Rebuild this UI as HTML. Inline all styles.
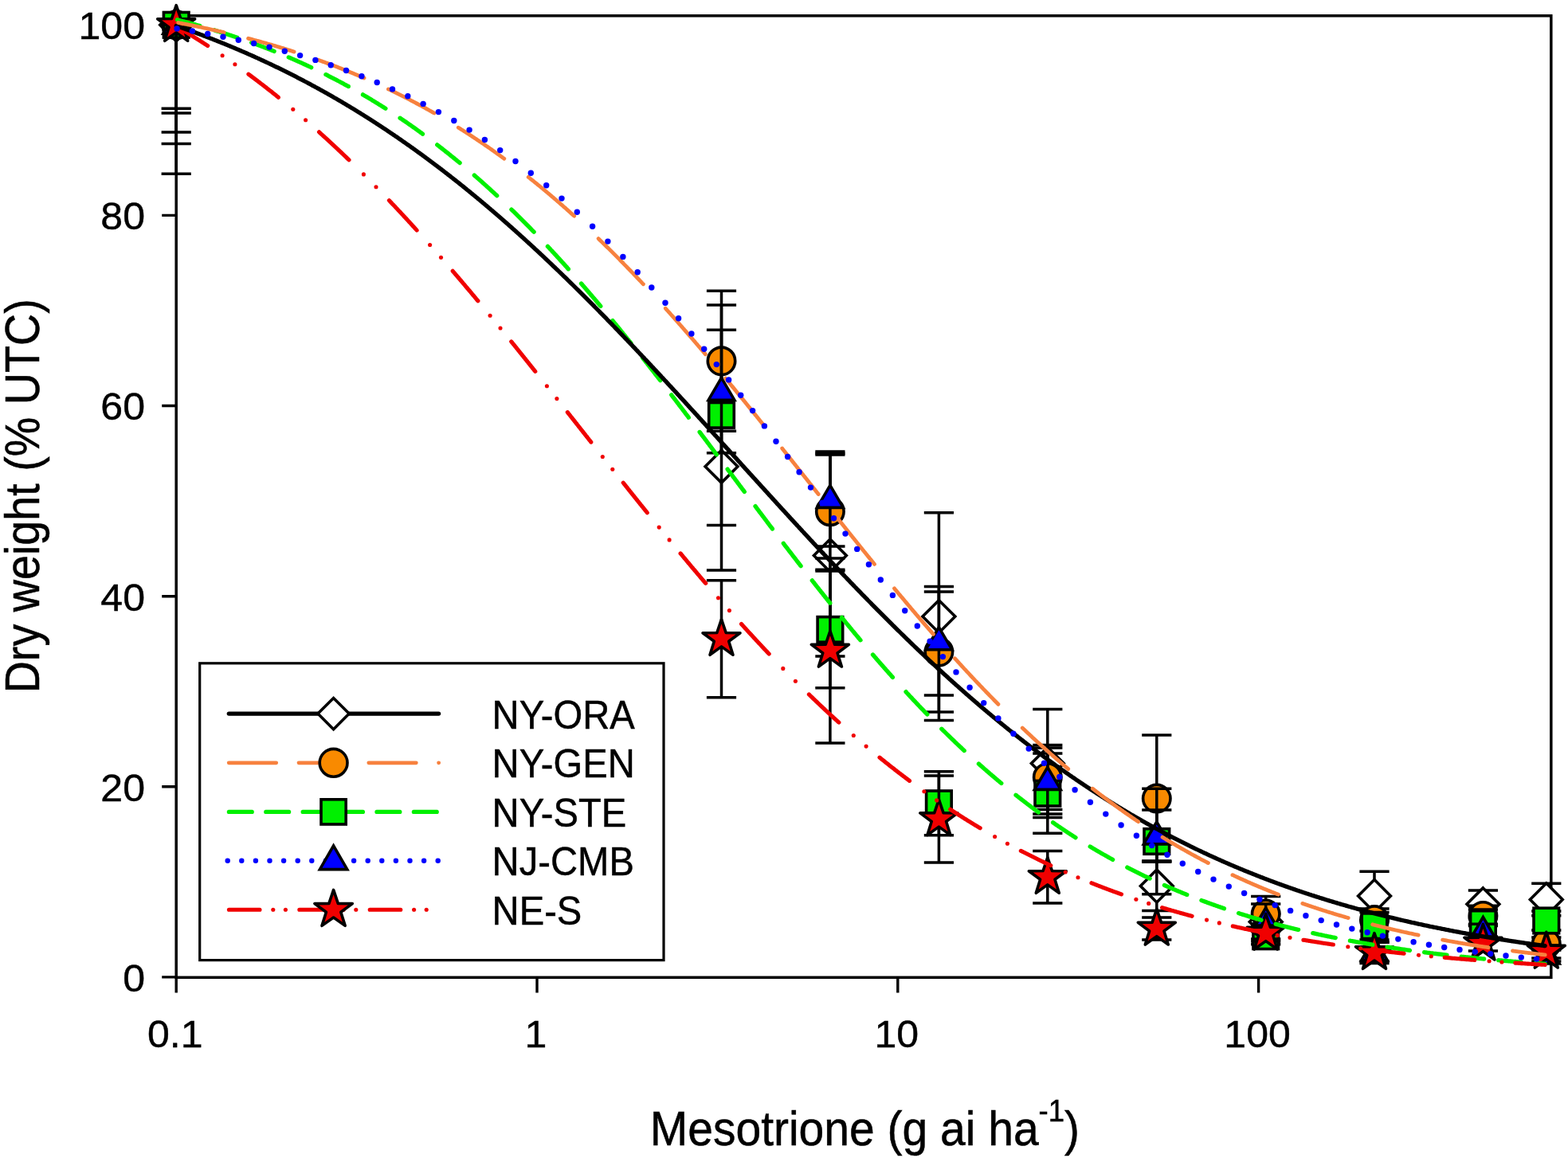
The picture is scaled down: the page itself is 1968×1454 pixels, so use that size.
<!DOCTYPE html>
<html><head><meta charset="utf-8"><title>Mesotrione dose response</title>
<style>
html,body{margin:0;padding:0;background:#fff;}
svg{display:block;}
.t{font-family:"Liberation Sans",Arial,sans-serif;font-size:47.2px;fill:#000;stroke:#000;stroke-width:0.45px;}
.n{font-family:"Liberation Sans",Arial,sans-serif;font-size:48.6px;fill:#000;stroke:#000;stroke-width:0.45px;}
.ay{font-family:"Liberation Sans",Arial,sans-serif;font-size:55.7px;fill:#000;stroke:#000;stroke-width:0.5px;}
.ax{font-family:"Liberation Sans",Arial,sans-serif;font-size:57px;fill:#000;stroke:#000;stroke-width:0.5px;}
.s{font-size:36.5px;}
</style></head><body>
<svg width="1968" height="1454" viewBox="0 0 1968 1454">
<rect width="1968" height="1454" fill="#fff"/>
<rect x="221.2" y="19.8" width="1725.6" height="1207.5" fill="none" stroke="#000" stroke-width="3.5"/>
<path d="M203.2 1226.9 L221.2 1226.9 M203.2 987.8 L221.2 987.8 M203.2 748.7 L221.2 748.7 M203.2 509.5 L221.2 509.5 M203.2 270.4 L221.2 270.4 M203.2 31.3 L221.2 31.3 M221.2 1227.3 L221.2 1246.5 M674.0 1227.3 L674.0 1246.5 M1126.8 1227.3 L1126.8 1246.5 M1579.6 1227.3 L1579.6 1246.5" stroke="#000" stroke-width="3.4" fill="none"/>
<text transform="translate(182.0 1244.7) scale(1.03 1)" class="n" text-anchor="end">0</text>
<text transform="translate(182.0 1005.6) scale(1.03 1)" class="n" text-anchor="end">20</text>
<text transform="translate(182.0 766.5) scale(1.03 1)" class="n" text-anchor="end">40</text>
<text transform="translate(182.0 527.3) scale(1.03 1)" class="n" text-anchor="end">60</text>
<text transform="translate(182.0 288.2) scale(1.03 1)" class="n" text-anchor="end">80</text>
<text transform="translate(182.0 49.1) scale(1.03 1)" class="n" text-anchor="end">100</text>
<text transform="translate(219.7 1314.5) scale(1.03 1)" class="n" text-anchor="middle">0.1</text>
<text transform="translate(672.5 1314.5) scale(1.03 1)" class="n" text-anchor="middle">1</text>
<text transform="translate(1125.3 1314.5) scale(1.03 1)" class="n" text-anchor="middle">10</text>
<text transform="translate(1578.1 1314.5) scale(1.03 1)" class="n" text-anchor="middle">100</text>
<text transform="translate(49.2 622.8) rotate(-90) scale(1 1.085)" class="ay" text-anchor="middle">Dry weight (% UTC)</text>
<text transform="translate(815.8 1437.8) scale(1 1.068)" class="ax">Mesotrione (g ai ha<tspan class="s" dy="-27.6">-1</tspan><tspan dy="27.6">)</tspan></text>
<path d="M221.2 19.8 L221.2 218.2 M202.6 218.2 L239.8 218.2 M905.5 455.5 L905.5 715.9 M886.9 455.5 L924.1 455.5 M886.9 715.9 L924.1 715.9 M1041.9 571.0 L1041.9 824.0 M1023.3 571.0 L1060.5 571.0 M1023.3 824.0 L1060.5 824.0 M1178.4 643.8 L1178.4 904.4 M1159.8 643.8 L1197.0 643.8 M1159.8 904.4 L1197.0 904.4 M1314.8 890.6 L1314.8 1026.6 M1296.2 890.6 L1333.4 890.6 M1296.2 1026.6 L1333.4 1026.6 M1451.8 1081.5 L1451.8 1143.5 M1433.2 1081.5 L1470.4 1081.5 M1433.2 1143.5 L1470.4 1143.5 M1588.7 1147.5 L1588.7 1167.5 M1570.1 1147.5 L1607.3 1147.5 M1570.1 1167.5 L1607.3 1167.5 M1725.0 1094.2 L1725.0 1155.8 M1706.4 1094.2 L1743.6 1094.2 M1706.4 1155.8 L1743.6 1155.8 M1861.4 1117.9 L1861.4 1152.7 M1842.8 1117.9 L1880.0 1117.9 M1842.8 1152.7 L1880.0 1152.7 M1940.8 1109.3 L1940.8 1149.7 M1922.2 1109.3 L1959.4 1109.3 M1922.2 1149.7 L1959.4 1149.7" stroke="#000" stroke-width="3.5" fill="none"/>
<path d="M221.2 10.9 L241.6 31.3 L221.2 51.7 L200.8 31.3 Z" fill="#FFFFFF" stroke="#000" stroke-width="3.6" stroke-linejoin="miter"/>
<path d="M905.5 565.3 L925.9 585.7 L905.5 606.1 L885.1 585.7 Z" fill="#FFFFFF" stroke="#000" stroke-width="3.6" stroke-linejoin="miter"/>
<path d="M1041.9 677.1 L1062.3 697.5 L1041.9 717.9 L1021.5 697.5 Z" fill="#FFFFFF" stroke="#000" stroke-width="3.6" stroke-linejoin="miter"/>
<path d="M1178.4 753.7 L1198.8 774.1 L1178.4 794.5 L1158.0 774.1 Z" fill="#FFFFFF" stroke="#000" stroke-width="3.6" stroke-linejoin="miter"/>
<path d="M1314.8 938.2 L1335.2 958.6 L1314.8 979.0 L1294.4 958.6 Z" fill="#FFFFFF" stroke="#000" stroke-width="3.6" stroke-linejoin="miter"/>
<path d="M1451.8 1092.1 L1472.2 1112.5 L1451.8 1132.9 L1431.4 1112.5 Z" fill="#FFFFFF" stroke="#000" stroke-width="3.6" stroke-linejoin="miter"/>
<path d="M1588.7 1137.1 L1609.1 1157.5 L1588.7 1177.9 L1568.3 1157.5 Z" fill="#FFFFFF" stroke="#000" stroke-width="3.6" stroke-linejoin="miter"/>
<path d="M1725.0 1104.6 L1745.4 1125.0 L1725.0 1145.4 L1704.6 1125.0 Z" fill="#FFFFFF" stroke="#000" stroke-width="3.6" stroke-linejoin="miter"/>
<path d="M1861.4 1114.9 L1881.8 1135.3 L1861.4 1155.7 L1841.0 1135.3 Z" fill="#FFFFFF" stroke="#000" stroke-width="3.6" stroke-linejoin="miter"/>
<path d="M1940.8 1109.1 L1961.2 1129.5 L1940.8 1149.9 L1920.4 1129.5 Z" fill="#FFFFFF" stroke="#000" stroke-width="3.6" stroke-linejoin="miter"/>
<path d="M221.2 19.8 L221.2 136.3 M202.6 136.3 L239.8 136.3 M905.5 365.3 L905.5 541.3 M886.9 365.3 L924.1 365.3 M886.9 541.3 L924.1 541.3 M1041.9 569.2 L1041.9 715.2 M1023.3 569.2 L1060.5 569.2 M1023.3 715.2 L1060.5 715.2 M1178.4 743.1 L1178.4 893.9 M1159.8 743.1 L1197.0 743.1 M1159.8 893.9 L1197.0 893.9 M1314.8 935.5 L1314.8 1016.5 M1296.2 935.5 L1333.4 935.5 M1296.2 1016.5 L1333.4 1016.5 M1451.8 922.9 L1451.8 1082.3 M1433.2 922.9 L1470.4 922.9 M1433.2 1082.3 L1470.4 1082.3 M1588.7 1125.5 L1588.7 1169.5 M1570.1 1125.5 L1607.3 1125.5 M1570.1 1169.5 L1607.3 1169.5 M1725.0 1141.1 L1725.0 1169.1 M1706.4 1141.1 L1743.6 1141.1 M1706.4 1169.1 L1743.6 1169.1 M1861.4 1137.2 L1861.4 1162.6 M1842.8 1137.2 L1880.0 1137.2 M1842.8 1162.6 L1880.0 1162.6 M1940.8 1177.0 L1940.8 1193.0 M1922.2 1177.0 L1959.4 1177.0 M1922.2 1193.0 L1959.4 1193.0" stroke="#000" stroke-width="3.5" fill="none"/>
<circle cx="221.2" cy="31.3" r="17.2" fill="#F98A00" stroke="#000" stroke-width="3.6"/>
<circle cx="905.5" cy="453.3" r="17.2" fill="#F98A00" stroke="#000" stroke-width="3.6"/>
<circle cx="1041.9" cy="642.2" r="17.2" fill="#F98A00" stroke="#000" stroke-width="3.6"/>
<circle cx="1178.4" cy="818.5" r="17.2" fill="#F98A00" stroke="#000" stroke-width="3.6"/>
<circle cx="1314.8" cy="976.0" r="17.2" fill="#F98A00" stroke="#000" stroke-width="3.6"/>
<circle cx="1451.8" cy="1002.6" r="17.2" fill="#F98A00" stroke="#000" stroke-width="3.6"/>
<circle cx="1588.7" cy="1147.5" r="17.2" fill="#F98A00" stroke="#000" stroke-width="3.6"/>
<circle cx="1725.0" cy="1155.1" r="17.2" fill="#F98A00" stroke="#000" stroke-width="3.6"/>
<circle cx="1861.4" cy="1149.9" r="17.2" fill="#F98A00" stroke="#000" stroke-width="3.6"/>
<circle cx="1940.8" cy="1185.0" r="17.2" fill="#F98A00" stroke="#000" stroke-width="3.6"/>
<path d="M221.2 19.8 L221.2 166.0 M202.6 166.0 L239.8 166.0 M905.5 383.1 L905.5 659.5 M886.9 383.1 L924.1 383.1 M886.9 659.5 L924.1 659.5 M1041.9 717.0 L1041.9 863.8 M1023.3 717.0 L1060.5 717.0 M1023.3 863.8 L1060.5 863.8 M1178.4 968.8 L1178.4 1048.8 M1159.8 968.8 L1197.0 968.8 M1159.8 1048.8 L1197.0 1048.8 M1314.8 946.1 L1314.8 1046.3 M1296.2 946.1 L1333.4 946.1 M1296.2 1046.3 L1333.4 1046.3 M1451.8 990.2 L1451.8 1122.8 M1433.2 990.2 L1470.4 990.2 M1433.2 1122.8 L1470.4 1122.8 M1588.7 1165.7 L1588.7 1185.7 M1570.1 1165.7 L1607.3 1165.7 M1570.1 1185.7 L1607.3 1185.7 M1725.0 1145.4 L1725.0 1180.0 M1706.4 1145.4 L1743.6 1145.4 M1706.4 1180.0 L1743.6 1180.0 M1861.4 1142.1 L1861.4 1176.9 M1842.8 1142.1 L1880.0 1142.1 M1842.8 1176.9 L1880.0 1176.9 M1940.8 1144.0 L1940.8 1168.0 M1922.2 1144.0 L1959.4 1144.0 M1922.2 1168.0 L1959.4 1168.0" stroke="#000" stroke-width="3.5" fill="none"/>
<rect x="205.4" y="15.5" width="31.6" height="31.6" fill="#00F000" stroke="#000" stroke-width="3.6"/>
<rect x="889.7" y="505.5" width="31.6" height="31.6" fill="#00F000" stroke="#000" stroke-width="3.6"/>
<rect x="1026.1" y="774.6" width="31.6" height="31.6" fill="#00F000" stroke="#000" stroke-width="3.6"/>
<rect x="1162.6" y="993.0" width="31.6" height="31.6" fill="#00F000" stroke="#000" stroke-width="3.6"/>
<rect x="1299.0" y="980.4" width="31.6" height="31.6" fill="#00F000" stroke="#000" stroke-width="3.6"/>
<rect x="1436.0" y="1040.7" width="31.6" height="31.6" fill="#00F000" stroke="#000" stroke-width="3.6"/>
<rect x="1572.9" y="1159.9" width="31.6" height="31.6" fill="#00F000" stroke="#000" stroke-width="3.6"/>
<rect x="1709.2" y="1146.9" width="31.6" height="31.6" fill="#00F000" stroke="#000" stroke-width="3.6"/>
<rect x="1845.6" y="1143.7" width="31.6" height="31.6" fill="#00F000" stroke="#000" stroke-width="3.6"/>
<rect x="1925.0" y="1140.2" width="31.6" height="31.6" fill="#00F000" stroke="#000" stroke-width="3.6"/>
<path d="M221.2 19.8 L221.2 142.0 M202.6 142.0 L239.8 142.0 M905.5 414.3 L905.5 568.7 M886.9 414.3 L924.1 414.3 M886.9 568.7 L924.1 568.7 M1041.9 567.0 L1041.9 686.0 M1023.3 567.0 L1060.5 567.0 M1023.3 686.0 L1060.5 686.0 M1178.4 736.6 L1178.4 873.0 M1159.8 736.6 L1197.0 736.6 M1159.8 873.0 L1197.0 873.0 M1314.8 938.9 L1314.8 1022.1 M1296.2 938.9 L1333.4 938.9 M1296.2 1022.1 L1333.4 1022.1 M1451.8 1017.0 L1451.8 1081.0 M1433.2 1017.0 L1470.4 1017.0 M1433.2 1081.0 L1470.4 1081.0 M1588.7 1135.0 L1588.7 1179.0 M1570.1 1135.0 L1607.3 1135.0 M1570.1 1179.0 L1607.3 1179.0 M1725.0 1183.0 L1725.0 1207.0 M1706.4 1183.0 L1743.6 1183.0 M1706.4 1207.0 L1743.6 1207.0 M1861.4 1160.3 L1861.4 1177.1 M1842.8 1160.3 L1880.0 1160.3 M1842.8 1177.1 L1880.0 1177.1 M1940.8 1191.0 L1940.8 1207.0 M1922.2 1191.0 L1959.4 1191.0 M1922.2 1207.0 L1959.4 1207.0" stroke="#000" stroke-width="3.5" fill="none"/>
<path d="M221.2 14.1 L237.6 42.2 L204.8 42.2 Z" fill="#0000FF" stroke="#000" stroke-width="3.6" stroke-linejoin="miter"/>
<path d="M905.5 474.3 L921.9 502.4 L889.1 502.4 Z" fill="#0000FF" stroke="#000" stroke-width="3.6" stroke-linejoin="miter"/>
<path d="M1041.9 609.3 L1058.3 637.4 L1025.5 637.4 Z" fill="#0000FF" stroke="#000" stroke-width="3.6" stroke-linejoin="miter"/>
<path d="M1178.4 787.6 L1194.8 815.7 L1162.0 815.7 Z" fill="#0000FF" stroke="#000" stroke-width="3.6" stroke-linejoin="miter"/>
<path d="M1314.8 963.3 L1331.2 991.4 L1298.4 991.4 Z" fill="#0000FF" stroke="#000" stroke-width="3.6" stroke-linejoin="miter"/>
<path d="M1451.8 1031.8 L1468.2 1059.9 L1435.4 1059.9 Z" fill="#0000FF" stroke="#000" stroke-width="3.6" stroke-linejoin="miter"/>
<path d="M1588.7 1139.8 L1605.1 1167.9 L1572.3 1167.9 Z" fill="#0000FF" stroke="#000" stroke-width="3.6" stroke-linejoin="miter"/>
<path d="M1725.0 1177.8 L1741.4 1205.9 L1708.6 1205.9 Z" fill="#0000FF" stroke="#000" stroke-width="3.6" stroke-linejoin="miter"/>
<path d="M1861.4 1151.5 L1877.8 1179.6 L1845.0 1179.6 Z" fill="#0000FF" stroke="#000" stroke-width="3.6" stroke-linejoin="miter"/>
<path d="M1940.8 1181.8 L1957.2 1209.9 L1924.4 1209.9 Z" fill="#0000FF" stroke="#000" stroke-width="3.6" stroke-linejoin="miter"/>
<path d="M221.2 19.8 L221.2 180.4 M202.6 180.4 L239.8 180.4 M905.5 728.8 L905.5 875.8 M886.9 728.8 L924.1 728.8 M886.9 875.8 L924.1 875.8 M1041.9 701.0 L1041.9 933.0 M1023.3 701.0 L1060.5 701.0 M1023.3 933.0 L1060.5 933.0 M1178.4 974.0 L1178.4 1083.0 M1159.8 974.0 L1197.0 974.0 M1159.8 1083.0 L1197.0 1083.0 M1314.8 1068.5 L1314.8 1134.1 M1296.2 1068.5 L1333.4 1068.5 M1296.2 1134.1 L1333.4 1134.1 M1451.8 1152.0 L1451.8 1180.0 M1433.2 1152.0 L1470.4 1152.0 M1433.2 1180.0 L1470.4 1180.0 M1588.7 1162.0 L1588.7 1182.0 M1570.1 1162.0 L1607.3 1162.0 M1570.1 1182.0 L1607.3 1182.0 M1725.0 1183.3 L1725.0 1209.5 M1706.4 1183.3 L1743.6 1183.3 M1706.4 1209.5 L1743.6 1209.5 M1861.4 1176.0 L1861.4 1194.0 M1842.8 1176.0 L1880.0 1176.0 M1842.8 1194.0 L1880.0 1194.0 M1940.8 1187.0 L1940.8 1203.0 M1922.2 1187.0 L1959.4 1187.0 M1922.2 1203.0 L1959.4 1203.0" stroke="#000" stroke-width="3.5" fill="none"/>
<path d="M221.2 6.6 L226.9 23.5 L244.7 23.7 L230.4 34.3 L235.7 51.3 L221.2 40.9 L206.7 51.3 L212.0 34.3 L197.7 23.7 L215.5 23.5 Z" fill="#F00000" stroke="#000" stroke-width="3.6" stroke-linejoin="round"/>
<path d="M905.5 777.6 L911.2 794.5 L929.0 794.7 L914.7 805.3 L920.0 822.3 L905.5 811.9 L891.0 822.3 L896.3 805.3 L882.0 794.7 L899.8 794.5 Z" fill="#F00000" stroke="#000" stroke-width="3.6" stroke-linejoin="round"/>
<path d="M1041.9 792.3 L1047.6 809.2 L1065.4 809.4 L1051.1 820.0 L1056.4 837.0 L1041.9 826.6 L1027.4 837.0 L1032.7 820.0 L1018.4 809.4 L1036.2 809.2 Z" fill="#F00000" stroke="#000" stroke-width="3.6" stroke-linejoin="round"/>
<path d="M1178.4 1003.8 L1184.1 1020.7 L1201.9 1020.9 L1187.6 1031.5 L1192.9 1048.5 L1178.4 1038.1 L1163.9 1048.5 L1169.2 1031.5 L1154.9 1020.9 L1172.7 1020.7 Z" fill="#F00000" stroke="#000" stroke-width="3.6" stroke-linejoin="round"/>
<path d="M1314.8 1076.6 L1320.5 1093.5 L1338.3 1093.7 L1324.0 1104.3 L1329.3 1121.3 L1314.8 1110.9 L1300.3 1121.3 L1305.6 1104.3 L1291.3 1093.7 L1309.1 1093.5 Z" fill="#F00000" stroke="#000" stroke-width="3.6" stroke-linejoin="round"/>
<path d="M1451.8 1141.3 L1457.5 1158.2 L1475.3 1158.4 L1461.0 1169.0 L1466.3 1186.0 L1451.8 1175.6 L1437.3 1186.0 L1442.6 1169.0 L1428.3 1158.4 L1446.1 1158.2 Z" fill="#F00000" stroke="#000" stroke-width="3.6" stroke-linejoin="round"/>
<path d="M1588.7 1147.3 L1594.4 1164.2 L1612.2 1164.4 L1597.9 1175.0 L1603.2 1192.0 L1588.7 1181.6 L1574.2 1192.0 L1579.5 1175.0 L1565.2 1164.4 L1583.0 1164.2 Z" fill="#F00000" stroke="#000" stroke-width="3.6" stroke-linejoin="round"/>
<path d="M1725.0 1171.7 L1730.7 1188.6 L1748.5 1188.8 L1734.2 1199.4 L1739.5 1216.4 L1725.0 1206.0 L1710.5 1216.4 L1715.8 1199.4 L1701.5 1188.8 L1719.3 1188.6 Z" fill="#F00000" stroke="#000" stroke-width="3.6" stroke-linejoin="round"/>
<path d="M1861.4 1160.3 L1867.1 1177.2 L1884.9 1177.4 L1870.6 1188.0 L1875.9 1205.0 L1861.4 1194.6 L1846.9 1205.0 L1852.2 1188.0 L1837.9 1177.4 L1855.7 1177.2 Z" fill="#F00000" stroke="#000" stroke-width="3.6" stroke-linejoin="round"/>
<path d="M1940.8 1170.3 L1946.5 1187.2 L1964.3 1187.4 L1950.0 1198.0 L1955.3 1215.0 L1940.8 1204.6 L1926.3 1215.0 L1931.6 1198.0 L1917.3 1187.4 L1935.1 1187.2 Z" fill="#F00000" stroke="#000" stroke-width="3.6" stroke-linejoin="round"/>
<path d="M222.5 24.8 L223.2 25.0 L224.2 25.2 L225.2 25.5 L226.2 25.8 L227.2 26.0 L228.2 26.3 L229.2 26.6 L230.2 26.8 L231.2 27.1 L232.2 27.4 L233.2 27.6 L234.2 27.9 L235.2 28.2 L236.2 28.4 L237.2 28.7 L238.2 29.0 L239.2 29.2 L240.2 29.5 L241.2 29.8 L242.2 30.1 L243.2 30.4 L244.2 30.6 L245.2 30.9 L246.2 31.2 L247.2 31.5 L248.2 31.8 L249.2 32.0 L250.2 32.3 L250.9 32.5 M269.1 37.9 L269.2 38.0 L270.2 38.3 L271.2 38.6 L272.2 38.9 L273.2 39.2 L274.2 39.5 L275.2 39.8 L276.2 40.1 L277.2 40.4 L278.2 40.8 L279.2 41.1 L280.2 41.4 L281.2 41.7 L282.2 42.0 L283.2 42.4 L284.2 42.7 L285.2 43.0 L286.2 43.3 L287.2 43.7 L288.2 44.0 L289.2 44.3 L290.2 44.6 L291.2 45.0 L292.2 45.3 L293.2 45.6 L294.2 46.0 L295.2 46.3 L296.2 46.7 L297.2 47.0 L297.5 47.1 M315.7 53.5 L316.2 53.7 L317.2 54.0 L318.2 54.4 L319.2 54.8 L320.2 55.2 L321.2 55.5 L322.2 55.9 L323.2 56.3 L324.2 56.6 L325.2 57.0 L326.2 57.4 L327.2 57.8 L328.2 58.1 L329.2 58.5 L330.2 58.9 L331.2 59.3 L332.2 59.7 L333.2 60.1 L334.2 60.5 L335.2 60.8 L336.2 61.2 L337.2 61.6 L338.2 62.0 L339.2 62.4 L340.2 62.8 L341.2 63.2 L342.2 63.6 L343.2 64.0 L344.1 64.4 M362.3 71.9 L363.2 72.3 L364.2 72.7 L365.2 73.2 L366.2 73.6 L367.2 74.0 L368.2 74.5 L369.2 74.9 L370.2 75.4 L371.2 75.8 L372.2 76.2 L373.2 76.7 L374.2 77.1 L375.2 77.6 L376.2 78.0 L377.2 78.5 L378.2 78.9 L379.2 79.4 L380.2 79.8 L381.2 80.3 L382.2 80.8 L383.2 81.2 L384.2 81.7 L385.2 82.1 L386.2 82.6 L387.2 83.1 L388.2 83.5 L389.2 84.0 L390.2 84.5 L390.7 84.7 M408.9 93.6 L409.2 93.7 L410.2 94.2 L411.2 94.7 L412.2 95.3 L413.2 95.8 L414.2 96.3 L415.2 96.8 L416.2 97.3 L417.2 97.8 L418.2 98.3 L419.2 98.9 L420.2 99.4 L421.2 99.9 L422.2 100.4 L423.2 100.9 L424.2 101.5 L425.2 102.0 L426.2 102.5 L427.2 103.1 L428.2 103.6 L429.2 104.1 L430.2 104.7 L431.2 105.2 L432.2 105.8 L433.2 106.3 L434.2 106.8 L435.2 107.4 L436.2 107.9 L437.2 108.5 L437.3 108.5 M455.5 118.9 L456.2 119.3 L457.2 119.9 L458.2 120.5 L459.2 121.1 L460.2 121.7 L461.2 122.2 L462.2 122.8 L463.2 123.4 L464.2 124.0 L465.2 124.6 L466.2 125.2 L467.2 125.9 L468.2 126.5 L469.2 127.1 L470.2 127.7 L471.2 128.3 L472.2 128.9 L473.2 129.5 L474.2 130.1 L475.2 130.8 L476.2 131.4 L477.2 132.0 L478.2 132.6 L479.2 133.3 L480.2 133.9 L481.2 134.5 L482.2 135.2 L483.2 135.8 L483.9 136.2 M502.1 148.2 L502.2 148.3 L503.2 148.9 L504.2 149.6 L505.2 150.3 L506.2 151.0 L507.2 151.7 L508.2 152.3 L509.2 153.0 L510.2 153.7 L511.2 154.4 L512.2 155.1 L513.2 155.8 L514.2 156.5 L515.2 157.2 L516.2 157.9 L517.2 158.6 L518.2 159.3 L519.2 160.0 L520.2 160.7 L521.2 161.4 L522.2 162.2 L523.2 162.9 L524.2 163.6 L525.2 164.3 L526.2 165.0 L527.2 165.8 L528.2 166.5 L529.2 167.2 L530.2 168.0 L530.5 168.2 M548.7 181.8 L549.2 182.2 L550.2 183.0 L551.2 183.8 L552.2 184.6 L553.2 185.3 L554.2 186.1 L555.2 186.9 L556.2 187.7 L557.2 188.5 L558.2 189.3 L559.2 190.1 L560.2 190.9 L561.2 191.6 L562.2 192.4 L563.2 193.2 L564.2 194.0 L565.2 194.9 L566.2 195.7 L567.2 196.5 L568.2 197.3 L569.2 198.1 L570.2 198.9 L571.2 199.7 L572.2 200.5 L573.2 201.4 L574.2 202.2 L575.2 203.0 L576.2 203.8 L577.1 204.6 M595.3 220.1 L596.2 220.9 L597.2 221.7 L598.2 222.6 L599.2 223.5 L600.2 224.4 L601.2 225.3 L602.2 226.1 L603.2 227.0 L604.2 227.9 L605.2 228.8 L606.2 229.7 L607.2 230.6 L608.2 231.5 L609.2 232.4 L610.2 233.3 L611.2 234.2 L612.2 235.1 L613.2 236.0 L614.2 236.9 L615.2 237.8 L616.2 238.8 L617.2 239.7 L618.2 240.6 L619.2 241.5 L620.2 242.4 L621.2 243.4 L622.2 244.3 L623.2 245.2 L623.7 245.7 M641.9 263.0 L642.2 263.3 L643.2 264.3 L644.2 265.2 L645.2 266.2 L646.2 267.2 L647.2 268.2 L648.2 269.2 L649.2 270.2 L650.2 271.1 L651.2 272.1 L652.2 273.1 L653.2 274.1 L654.2 275.1 L655.2 276.1 L656.2 277.1 L657.2 278.1 L658.2 279.1 L659.2 280.1 L660.2 281.1 L661.2 282.2 L662.2 283.2 L663.2 284.2 L664.2 285.2 L665.2 286.2 L666.2 287.2 L667.2 288.3 L668.2 289.3 L669.2 290.3 L670.1 291.2 M687.4 309.4 L688.2 310.2 L689.2 311.3 L690.2 312.4 L691.2 313.5 L692.2 314.5 L693.2 315.6 L694.2 316.7 L695.2 317.8 L696.2 318.9 L697.2 319.9 L698.2 321.0 L699.2 322.1 L700.2 323.2 L701.2 324.3 L702.2 325.4 L703.2 326.5 L704.2 327.6 L705.2 328.7 L706.2 329.8 L707.2 330.9 L708.2 332.0 L709.2 333.1 L710.2 334.2 L711.2 335.3 L712.2 336.5 L713.2 337.6 L713.4 337.8 M729.5 356.0 L730.2 356.8 L731.2 358.0 L732.2 359.1 L733.2 360.3 L734.2 361.4 L735.2 362.6 L736.2 363.8 L737.2 364.9 L738.2 366.1 L739.2 367.2 L740.2 368.4 L741.2 369.6 L742.2 370.7 L743.2 371.9 L744.2 373.1 L745.2 374.3 L746.2 375.4 L747.2 376.6 L748.2 377.8 L749.2 379.0 L750.2 380.2 L751.2 381.4 L752.2 382.5 L753.2 383.7 L753.8 384.4 M768.9 402.6 L769.2 403.0 L770.2 404.2 L771.2 405.4 L772.2 406.6 L773.2 407.8 L774.2 409.0 L775.2 410.3 L776.2 411.5 L777.2 412.7 L778.2 413.9 L779.2 415.2 L780.2 416.4 L781.2 417.6 L782.2 418.9 L783.2 420.1 L784.2 421.3 L785.2 422.6 L786.2 423.8 L787.2 425.1 L788.2 426.3 L789.2 427.5 L790.2 428.8 L791.2 430.0 L792.0 431.0 M806.5 449.2 L807.2 450.2 L808.2 451.4 L809.2 452.7 L810.2 454.0 L811.2 455.2 L812.2 456.5 L813.2 457.8 L814.2 459.0 L815.2 460.3 L816.2 461.6 L817.2 462.9 L818.2 464.2 L819.2 465.4 L820.2 466.7 L821.2 468.0 L822.2 469.3 L823.2 470.6 L824.2 471.9 L825.2 473.1 L826.2 474.4 L827.2 475.7 L828.2 477.0 L828.7 477.6 M842.7 495.8 L843.2 496.5 L844.2 497.8 L845.2 499.1 L846.2 500.4 L847.2 501.7 L848.2 503.0 L849.2 504.3 L850.2 505.6 L851.2 506.9 L852.2 508.3 L853.2 509.6 L854.2 510.9 L855.2 512.2 L856.2 513.5 L857.2 514.8 L858.2 516.1 L859.2 517.4 L860.2 518.8 L861.2 520.1 L862.2 521.4 L863.2 522.7 L864.2 524.0 L864.3 524.2 M878.1 542.4 L878.2 542.6 L879.2 543.9 L880.2 545.2 L881.2 546.6 L882.2 547.9 L883.2 549.2 L884.2 550.5 L885.2 551.9 L886.2 553.2 L887.2 554.5 L888.2 555.9 L889.2 557.2 L890.2 558.5 L891.2 559.9 L892.2 561.2 L893.2 562.5 L894.2 563.9 L895.2 565.2 L896.2 566.5 L897.2 567.9 L898.2 569.2 L899.2 570.5 L899.4 570.8 M913.1 589.0 L913.2 589.2 L914.2 590.6 L915.2 591.9 L916.2 593.2 L917.2 594.6 L918.2 595.9 L919.2 597.2 L920.2 598.6 L921.2 599.9 L922.2 601.2 L923.2 602.6 L924.2 603.9 L925.2 605.2 L926.2 606.6 L927.2 607.9 L928.2 609.3 L929.2 610.6 L930.2 611.9 L931.2 613.3 L932.2 614.6 L933.2 615.9 L934.2 617.3 L934.3 617.4 M948.0 635.6 L948.2 635.9 L949.2 637.2 L950.2 638.6 L951.2 639.9 L952.2 641.2 L953.2 642.6 L954.2 643.9 L955.2 645.2 L956.2 646.5 L957.2 647.9 L958.2 649.2 L959.2 650.5 L960.2 651.8 L961.2 653.2 L962.2 654.5 L963.2 655.8 L964.2 657.1 L965.2 658.5 L966.2 659.8 L967.2 661.1 L968.2 662.4 L969.2 663.7 L969.4 664.0 M983.3 682.2 L984.2 683.5 L985.2 684.8 L986.2 686.1 L987.2 687.4 L988.2 688.7 L989.2 690.0 L990.2 691.3 L991.2 692.6 L992.2 693.9 L993.2 695.2 L994.2 696.5 L995.2 697.8 L996.2 699.1 L997.2 700.4 L998.2 701.7 L999.2 703.0 L1000.2 704.3 L1001.2 705.6 L1002.2 706.9 L1003.2 708.2 L1004.2 709.5 L1005.1 710.6 M1019.3 728.8 L1020.2 730.0 L1021.2 731.3 L1022.2 732.5 L1023.2 733.8 L1024.2 735.1 L1025.2 736.4 L1026.2 737.6 L1027.2 738.9 L1028.2 740.2 L1029.2 741.4 L1030.2 742.7 L1031.2 743.9 L1032.2 745.2 L1033.2 746.5 L1034.2 747.7 L1035.2 749.0 L1036.2 750.2 L1037.2 751.5 L1038.2 752.7 L1039.2 754.0 L1040.2 755.2 L1041.2 756.5 L1041.8 757.2 M1056.5 775.4 L1057.2 776.3 L1058.2 777.5 L1059.2 778.7 L1060.2 779.9 L1061.2 781.2 L1062.2 782.4 L1063.2 783.6 L1064.2 784.8 L1065.2 786.0 L1066.2 787.2 L1067.2 788.4 L1068.2 789.6 L1069.2 790.9 L1070.2 792.1 L1071.2 793.3 L1072.2 794.5 L1073.2 795.7 L1074.2 796.9 L1075.2 798.1 L1076.2 799.3 L1077.2 800.5 L1078.2 801.7 L1079.2 802.8 L1080.0 803.8 M1095.5 822.0 L1096.2 822.8 L1097.2 824.0 L1098.2 825.1 L1099.2 826.3 L1100.2 827.5 L1101.2 828.6 L1102.2 829.8 L1103.2 830.9 L1104.2 832.1 L1105.2 833.2 L1106.2 834.4 L1107.2 835.5 L1108.2 836.6 L1109.2 837.8 L1110.2 838.9 L1111.2 840.0 L1112.2 841.2 L1113.2 842.3 L1114.2 843.4 L1115.2 844.6 L1116.2 845.7 L1117.2 846.8 L1118.2 847.9 L1119.2 849.1 L1120.2 850.2 L1120.4 850.4 M1137.0 868.6 L1137.2 868.9 L1138.2 870.0 L1139.2 871.0 L1140.2 872.1 L1141.2 873.2 L1142.2 874.3 L1143.2 875.3 L1144.2 876.4 L1145.2 877.5 L1146.2 878.6 L1147.2 879.6 L1148.2 880.7 L1149.2 881.7 L1150.2 882.8 L1151.2 883.9 L1152.2 884.9 L1153.2 886.0 L1154.2 887.0 L1155.2 888.1 L1156.2 889.1 L1157.2 890.2 L1158.2 891.2 L1159.2 892.2 L1160.2 893.3 L1161.2 894.3 L1162.2 895.3 L1163.2 896.4 L1163.8 897.0 M1181.8 915.2 L1182.2 915.6 L1183.2 916.6 L1184.2 917.6 L1185.2 918.5 L1186.2 919.5 L1187.2 920.5 L1188.2 921.5 L1189.2 922.5 L1190.2 923.4 L1191.2 924.4 L1192.2 925.4 L1193.2 926.4 L1194.2 927.3 L1195.2 928.3 L1196.2 929.2 L1197.2 930.2 L1198.2 931.2 L1199.2 932.1 L1200.2 933.1 L1201.2 934.0 L1202.2 935.0 L1203.2 935.9 L1204.2 936.9 L1205.2 937.8 L1206.2 938.7 L1207.2 939.7 L1208.2 940.6 L1209.2 941.6 L1210.2 942.5 L1210.2 942.5 M1228.4 959.1 L1229.2 959.8 L1230.2 960.7 L1231.2 961.6 L1232.2 962.4 L1233.2 963.3 L1234.2 964.2 L1235.2 965.1 L1236.2 966.0 L1237.2 966.8 L1238.2 967.7 L1239.2 968.6 L1240.2 969.4 L1241.2 970.3 L1242.2 971.2 L1243.2 972.0 L1244.2 972.9 L1245.2 973.7 L1246.2 974.6 L1247.2 975.4 L1248.2 976.3 L1249.2 977.1 L1250.2 978.0 L1251.2 978.8 L1252.2 979.7 L1253.2 980.5 L1254.2 981.3 L1255.2 982.2 L1256.2 983.0 L1256.8 983.5 M1275.0 998.3 L1275.2 998.4 L1276.2 999.2 L1277.2 1000.0 L1278.2 1000.8 L1279.2 1001.6 L1280.2 1002.3 L1281.2 1003.1 L1282.2 1003.9 L1283.2 1004.7 L1284.2 1005.4 L1285.2 1006.2 L1286.2 1007.0 L1287.2 1007.7 L1288.2 1008.5 L1289.2 1009.3 L1290.2 1010.0 L1291.2 1010.8 L1292.2 1011.5 L1293.2 1012.3 L1294.2 1013.1 L1295.2 1013.8 L1296.2 1014.5 L1297.2 1015.3 L1298.2 1016.0 L1299.2 1016.8 L1300.2 1017.5 L1301.2 1018.3 L1302.2 1019.0 L1303.2 1019.7 L1303.4 1019.9 M1321.6 1032.8 L1322.2 1033.2 L1323.2 1033.9 L1324.2 1034.6 L1325.2 1035.3 L1326.2 1036.0 L1327.2 1036.7 L1328.2 1037.4 L1329.2 1038.0 L1330.2 1038.7 L1331.2 1039.4 L1332.2 1040.1 L1333.2 1040.7 L1334.2 1041.4 L1335.2 1042.1 L1336.2 1042.7 L1337.2 1043.4 L1338.2 1044.1 L1339.2 1044.7 L1340.2 1045.4 L1341.2 1046.0 L1342.2 1046.7 L1343.2 1047.3 L1344.2 1048.0 L1345.2 1048.6 L1346.2 1049.3 L1347.2 1049.9 L1348.2 1050.6 L1349.2 1051.2 L1350.0 1051.7 M1368.2 1063.0 L1369.2 1063.6 L1370.2 1064.2 L1371.2 1064.8 L1372.2 1065.4 L1373.2 1066.0 L1374.2 1066.6 L1375.2 1067.2 L1376.2 1067.8 L1377.2 1068.3 L1378.2 1068.9 L1379.2 1069.5 L1380.2 1070.1 L1381.2 1070.7 L1382.2 1071.3 L1383.2 1071.8 L1384.2 1072.4 L1385.2 1073.0 L1386.2 1073.5 L1387.2 1074.1 L1388.2 1074.7 L1389.2 1075.2 L1390.2 1075.8 L1391.2 1076.4 L1392.2 1076.9 L1393.2 1077.5 L1394.2 1078.0 L1395.2 1078.6 L1396.2 1079.1 L1396.6 1079.4 M1414.8 1089.1 L1415.2 1089.3 L1416.2 1089.8 L1417.2 1090.3 L1418.2 1090.8 L1419.2 1091.4 L1420.2 1091.9 L1421.2 1092.4 L1422.2 1092.9 L1423.2 1093.4 L1424.2 1093.9 L1425.2 1094.4 L1426.2 1094.9 L1427.2 1095.4 L1428.2 1095.9 L1429.2 1096.4 L1430.2 1096.9 L1431.2 1097.4 L1432.2 1097.9 L1433.2 1098.3 L1434.2 1098.8 L1435.2 1099.3 L1436.2 1099.8 L1437.2 1100.3 L1438.2 1100.8 L1439.2 1101.2 L1440.2 1101.7 L1441.2 1102.2 L1442.2 1102.7 L1443.2 1103.1 L1443.2 1103.1 M1461.4 1111.5 L1462.2 1111.8 L1463.2 1112.3 L1464.2 1112.7 L1465.2 1113.1 L1466.2 1113.6 L1467.2 1114.0 L1468.2 1114.4 L1469.2 1114.9 L1470.2 1115.3 L1471.2 1115.7 L1472.2 1116.2 L1473.2 1116.6 L1474.2 1117.0 L1475.2 1117.4 L1476.2 1117.9 L1477.2 1118.3 L1478.2 1118.7 L1479.2 1119.1 L1480.2 1119.5 L1481.2 1119.9 L1482.2 1120.3 L1483.2 1120.8 L1484.2 1121.2 L1485.2 1121.6 L1486.2 1122.0 L1487.2 1122.4 L1488.2 1122.8 L1489.2 1123.2 L1489.8 1123.4 M1508.0 1130.5 L1508.2 1130.6 L1509.2 1131.0 L1510.2 1131.3 L1511.2 1131.7 L1512.2 1132.1 L1513.2 1132.4 L1514.2 1132.8 L1515.2 1133.2 L1516.2 1133.6 L1517.2 1133.9 L1518.2 1134.3 L1519.2 1134.6 L1520.2 1135.0 L1521.2 1135.4 L1522.2 1135.7 L1523.2 1136.1 L1524.2 1136.4 L1525.2 1136.8 L1526.2 1137.1 L1527.2 1137.5 L1528.2 1137.8 L1529.2 1138.2 L1530.2 1138.5 L1531.2 1138.9 L1532.2 1139.2 L1533.2 1139.6 L1534.2 1139.9 L1535.2 1140.3 L1536.2 1140.6 L1536.4 1140.7 M1554.6 1146.6 L1555.2 1146.8 L1556.2 1147.1 L1557.2 1147.5 L1558.2 1147.8 L1559.2 1148.1 L1560.2 1148.4 L1561.2 1148.7 L1562.2 1149.0 L1563.2 1149.3 L1564.2 1149.6 L1565.2 1149.9 L1566.2 1150.2 L1567.2 1150.6 L1568.2 1150.9 L1569.2 1151.2 L1570.2 1151.5 L1571.2 1151.8 L1572.2 1152.1 L1573.2 1152.4 L1574.2 1152.6 L1575.2 1152.9 L1576.2 1153.2 L1577.2 1153.5 L1578.2 1153.8 L1579.2 1154.1 L1580.2 1154.4 L1581.2 1154.7 L1582.2 1155.0 L1583.0 1155.2 M1601.2 1160.2 L1602.2 1160.5 L1603.2 1160.8 L1604.2 1161.0 L1605.2 1161.3 L1606.2 1161.6 L1607.2 1161.8 L1608.2 1162.1 L1609.2 1162.3 L1610.2 1162.6 L1611.2 1162.9 L1612.2 1163.1 L1613.2 1163.4 L1614.2 1163.6 L1615.2 1163.9 L1616.2 1164.1 L1617.2 1164.4 L1618.2 1164.6 L1619.2 1164.9 L1620.2 1165.1 L1621.2 1165.4 L1622.2 1165.6 L1623.2 1165.9 L1624.2 1166.1 L1625.2 1166.4 L1626.2 1166.6 L1627.2 1166.8 L1628.2 1167.1 L1629.2 1167.3 L1629.6 1167.4 M1647.8 1171.6 L1648.2 1171.7 L1649.2 1171.9 L1650.2 1172.2 L1651.2 1172.4 L1652.2 1172.6 L1653.2 1172.8 L1654.2 1173.0 L1655.2 1173.3 L1656.2 1173.5 L1657.2 1173.7 L1658.2 1173.9 L1659.2 1174.1 L1660.2 1174.3 L1661.2 1174.5 L1662.2 1174.8 L1663.2 1175.0 L1664.2 1175.2 L1665.2 1175.4 L1666.2 1175.6 L1667.2 1175.8 L1668.2 1176.0 L1669.2 1176.2 L1670.2 1176.4 L1671.2 1176.6 L1672.2 1176.8 L1673.2 1177.0 L1674.2 1177.2 L1675.2 1177.4 L1676.2 1177.6 L1676.2 1177.6 M1694.4 1181.2 L1695.2 1181.3 L1696.2 1181.5 L1697.2 1181.7 L1698.2 1181.9 L1699.2 1182.0 L1700.2 1182.2 L1701.2 1182.4 L1702.2 1182.6 L1703.2 1182.8 L1704.2 1182.9 L1705.2 1183.1 L1706.2 1183.3 L1707.2 1183.5 L1708.2 1183.7 L1709.2 1183.8 L1710.2 1184.0 L1711.2 1184.2 L1712.2 1184.4 L1713.2 1184.5 L1714.2 1184.7 L1715.2 1184.9 L1716.2 1185.1 L1717.2 1185.2 L1718.2 1185.4 L1719.2 1185.6 L1720.2 1185.7 L1721.2 1185.9 L1722.2 1186.1 L1722.8 1186.2 M1741.0 1189.1 L1741.2 1189.1 L1742.2 1189.3 L1743.2 1189.4 L1744.2 1189.6 L1745.2 1189.7 L1746.2 1189.9 L1747.2 1190.0 L1748.2 1190.2 L1749.2 1190.3 L1750.2 1190.5 L1751.2 1190.6 L1752.2 1190.8 L1753.2 1190.9 L1754.2 1191.1 L1755.2 1191.2 L1756.2 1191.4 L1757.2 1191.5 L1758.2 1191.7 L1759.2 1191.8 L1760.2 1192.0 L1761.2 1192.1 L1762.2 1192.2 L1763.2 1192.4 L1764.2 1192.5 L1765.2 1192.7 L1766.2 1192.8 L1767.2 1193.0 L1768.2 1193.1 L1769.2 1193.2 L1769.4 1193.3 M1787.6 1195.7 L1788.2 1195.8 L1789.2 1195.9 L1790.2 1196.0 L1791.2 1196.2 L1792.2 1196.3 L1793.2 1196.4 L1794.2 1196.5 L1795.2 1196.7 L1796.2 1196.8 L1797.2 1196.9 L1798.2 1197.0 L1799.2 1197.2 L1800.2 1197.3 L1801.2 1197.4 L1802.2 1197.5 L1803.2 1197.6 L1804.2 1197.8 L1805.2 1197.9 L1806.2 1198.0 L1807.2 1198.1 L1808.2 1198.2 L1809.2 1198.4 L1810.2 1198.5 L1811.2 1198.6 L1812.2 1198.7 L1813.2 1198.8 L1814.2 1198.9 L1815.2 1199.1 L1816.0 1199.2 M1834.2 1201.2 L1835.2 1201.3 L1836.2 1201.4 L1837.2 1201.5 L1838.2 1201.6 L1839.2 1201.7 L1840.2 1201.8 L1841.2 1201.9 L1842.2 1202.0 L1843.2 1202.1 L1844.2 1202.2 L1845.2 1202.3 L1846.2 1202.4 L1847.2 1202.5 L1848.2 1202.6 L1849.2 1202.7 L1850.2 1202.8 L1851.2 1202.9 L1852.2 1203.0 L1853.2 1203.1 L1854.2 1203.2 L1855.2 1203.3 L1856.2 1203.4 L1857.2 1203.5 L1858.2 1203.6 L1859.2 1203.7 L1860.2 1203.8 L1861.2 1203.9 L1862.2 1204.0 L1862.6 1204.0 M1880.8 1205.7 L1881.2 1205.7 L1882.2 1205.8 L1883.2 1205.9 L1884.2 1206.0 L1885.2 1206.1 L1886.2 1206.2 L1887.2 1206.3 L1888.2 1206.3 L1889.2 1206.4 L1890.2 1206.5 L1891.2 1206.6 L1892.2 1206.7 L1893.2 1206.8 L1894.2 1206.9 L1895.2 1206.9 L1896.2 1207.0 L1897.2 1207.1 L1898.2 1207.2 L1899.2 1207.3 L1900.2 1207.4 L1901.2 1207.4 L1902.2 1207.5 L1903.2 1207.6 L1904.2 1207.7 L1905.2 1207.8 L1906.2 1207.8 L1907.2 1207.9 L1908.2 1208.0 L1909.2 1208.1 L1909.2 1208.1 M1927.4 1209.5 L1928.2 1209.5 L1929.2 1209.6 L1930.2 1209.7 L1931.2 1209.7 L1932.2 1209.8 L1933.2 1209.9 L1934.2 1209.9 L1935.2 1210.0 L1936.2 1210.1 L1937.2 1210.2 L1938.2 1210.2 L1939.2 1210.3" fill="none" stroke="#00F000" stroke-width="5.3" stroke-linecap="round" stroke-linejoin="round"/>
<path d="M223.2 34.2 L224.2 34.8 L225.2 35.4 L226.2 36.0 L227.2 36.6 L228.2 37.2 L229.2 37.8 L230.2 38.4 L231.2 39.0 L232.2 39.6 L233.2 40.2 L234.2 40.8 L235.2 41.4 L236.2 42.0 L237.2 42.6 L238.2 43.2 L239.2 43.9 L240.2 44.5 L241.2 45.1 L242.2 45.7 L243.2 46.3 L244.2 47.0 L245.2 47.6 L246.2 48.2 L247.2 48.8 L248.2 49.5 L249.2 50.1 L250.2 50.7 L251.2 51.4 L252.2 52.0 L253.2 52.7 L254.2 53.3 L255.2 53.9 L256.2 54.6 L257.2 55.2 L258.2 55.9 L259.2 56.5 L260.2 57.2 L260.7 57.5 M311.9 93.1 L312.2 93.4 L313.2 94.1 L314.2 94.9 L315.2 95.6 L316.2 96.4 L317.2 97.1 L318.2 97.9 L319.2 98.6 L320.2 99.4 L321.2 100.1 L322.2 100.9 L323.2 101.6 L324.2 102.4 L325.2 103.2 L326.2 103.9 L327.2 104.7 L328.2 105.5 L329.2 106.2 L330.2 107.0 L331.2 107.8 L332.2 108.6 L333.2 109.3 L334.2 110.1 L335.2 110.9 L336.2 111.7 L337.2 112.5 L338.2 113.3 L339.2 114.0 L340.2 114.8 L341.2 115.6 L342.2 116.4 L343.2 117.2 L344.2 118.0 L345.2 118.8 L346.2 119.6 L347.2 120.4 L348.2 121.2 L349.2 122.0 L349.4 122.2 M400.5 165.8 L401.2 166.5 L402.2 167.4 L403.2 168.3 L404.2 169.2 L405.2 170.1 L406.2 171.0 L407.2 171.9 L408.2 172.8 L409.2 173.7 L410.2 174.6 L411.2 175.5 L412.2 176.5 L413.2 177.4 L414.2 178.3 L415.2 179.2 L416.2 180.2 L417.2 181.1 L418.2 182.0 L419.2 183.0 L420.2 183.9 L421.2 184.8 L422.2 185.8 L423.2 186.7 L424.2 187.6 L425.2 188.6 L426.2 189.5 L427.2 190.5 L428.2 191.4 L429.2 192.4 L430.2 193.3 L431.2 194.3 L432.2 195.2 L433.2 196.2 L434.2 197.1 L435.2 198.1 L436.2 199.1 L437.2 200.0 L438.0 200.8 M488.4 251.6 L489.2 252.5 L490.2 253.6 L491.2 254.6 L492.2 255.7 L493.2 256.7 L494.2 257.8 L495.2 258.8 L496.2 259.9 L497.2 261.0 L498.2 262.0 L499.2 263.1 L500.2 264.2 L501.2 265.2 L502.2 266.3 L503.2 267.4 L504.2 268.5 L505.2 269.5 L506.2 270.6 L507.2 271.7 L508.2 272.8 L509.2 273.9 L510.2 274.9 L511.2 276.0 L512.2 277.1 L513.2 278.2 L514.2 279.3 L515.2 280.4 L516.2 281.5 L517.2 282.6 L518.2 283.7 L519.2 284.8 L520.2 285.9 L521.2 287.0 L522.2 288.1 L523.1 289.1 M568.2 340.3 L568.2 340.3 L569.2 341.5 L570.2 342.6 L571.2 343.8 L572.2 345.0 L573.2 346.1 L574.2 347.3 L575.2 348.5 L576.2 349.7 L577.2 350.8 L578.2 352.0 L579.2 353.2 L580.2 354.4 L581.2 355.6 L582.2 356.7 L583.2 357.9 L584.2 359.1 L585.2 360.3 L586.2 361.5 L587.2 362.7 L588.2 363.8 L589.2 365.0 L590.2 366.2 L591.2 367.4 L592.2 368.6 L593.2 369.8 L594.2 371.0 L595.2 372.2 L596.2 373.4 L597.2 374.6 L598.2 375.8 L599.2 377.0 L599.9 377.8 M641.7 428.9 L642.2 429.5 L643.2 430.7 L644.2 432.0 L645.2 433.2 L646.2 434.4 L647.2 435.7 L648.2 436.9 L649.2 438.2 L650.2 439.4 L651.2 440.7 L652.2 441.9 L653.2 443.2 L654.2 444.4 L655.2 445.6 L656.2 446.9 L657.2 448.1 L658.2 449.4 L659.2 450.6 L660.2 451.9 L661.2 453.1 L662.2 454.4 L663.2 455.6 L664.2 456.9 L665.2 458.1 L666.2 459.4 L667.2 460.7 L668.2 461.9 L669.2 463.2 L670.2 464.4 L671.2 465.7 L671.8 466.4 M712.3 517.6 L713.2 518.8 L714.2 520.0 L715.2 521.3 L716.2 522.6 L717.2 523.8 L718.2 525.1 L719.2 526.4 L720.2 527.6 L721.2 528.9 L722.2 530.2 L723.2 531.5 L724.2 532.7 L725.2 534.0 L726.2 535.3 L727.2 536.5 L728.2 537.8 L729.2 539.1 L730.2 540.3 L731.2 541.6 L732.2 542.9 L733.2 544.2 L734.2 545.4 L735.2 546.7 L736.2 548.0 L737.2 549.2 L738.2 550.5 L739.2 551.8 L740.2 553.0 L741.2 554.3 L741.8 555.1 M782.2 606.2 L783.2 607.4 L784.2 608.7 L785.2 609.9 L786.2 611.2 L787.2 612.4 L788.2 613.7 L789.2 615.0 L790.2 616.2 L791.2 617.5 L792.2 618.7 L793.2 620.0 L794.2 621.2 L795.2 622.5 L796.2 623.7 L797.2 625.0 L798.2 626.2 L799.2 627.5 L800.2 628.7 L801.2 630.0 L802.2 631.2 L803.2 632.5 L804.2 633.7 L805.2 635.0 L806.2 636.2 L807.2 637.4 L808.2 638.7 L809.2 639.9 L810.2 641.2 L811.2 642.4 L812.2 643.6 L812.3 643.7 M854.1 694.9 L854.2 695.0 L855.2 696.2 L856.2 697.4 L857.2 698.6 L858.2 699.8 L859.2 701.0 L860.2 702.2 L861.2 703.4 L862.2 704.6 L863.2 705.8 L864.2 707.0 L865.2 708.2 L866.2 709.4 L867.2 710.6 L868.2 711.8 L869.2 713.0 L870.2 714.2 L871.2 715.3 L872.2 716.5 L873.2 717.7 L874.2 718.9 L875.2 720.1 L876.2 721.3 L877.2 722.4 L878.2 723.6 L879.2 724.8 L880.2 726.0 L881.2 727.1 L882.2 728.3 L883.2 729.5 L884.2 730.7 L885.2 731.8 L885.7 732.4 M930.5 783.5 L931.2 784.3 L932.2 785.4 L933.2 786.5 L934.2 787.6 L935.2 788.7 L936.2 789.8 L937.2 790.9 L938.2 792.0 L939.2 793.1 L940.2 794.2 L941.2 795.3 L942.2 796.4 L943.2 797.4 L944.2 798.5 L945.2 799.6 L946.2 800.7 L947.2 801.8 L948.2 802.9 L949.2 804.0 L950.2 805.0 L951.2 806.1 L952.2 807.2 L953.2 808.3 L954.2 809.3 L955.2 810.4 L956.2 811.5 L957.2 812.6 L958.2 813.6 L959.2 814.7 L960.2 815.8 L961.2 816.8 L962.2 817.9 L963.2 818.9 L964.2 820.0 L965.2 821.0 M1015.4 871.9 L1016.2 872.7 L1017.2 873.7 L1018.2 874.7 L1019.2 875.6 L1020.2 876.6 L1021.2 877.6 L1022.2 878.5 L1023.2 879.5 L1024.2 880.5 L1025.2 881.4 L1026.2 882.4 L1027.2 883.3 L1028.2 884.3 L1029.2 885.2 L1030.2 886.2 L1031.2 887.1 L1032.2 888.0 L1033.2 889.0 L1034.2 889.9 L1035.2 890.9 L1036.2 891.8 L1037.2 892.7 L1038.2 893.7 L1039.2 894.6 L1040.2 895.5 L1041.2 896.5 L1042.2 897.4 L1043.2 898.3 L1044.2 899.2 L1045.2 900.1 L1046.2 901.1 L1047.2 902.0 L1048.2 902.9 L1049.2 903.8 L1050.2 904.7 L1051.2 905.6 L1052.2 906.5 L1052.9 907.1 M1104.0 951.1 L1104.2 951.3 L1105.2 952.1 L1106.2 952.9 L1107.2 953.7 L1108.2 954.5 L1109.2 955.3 L1110.2 956.1 L1111.2 956.9 L1112.2 957.7 L1113.2 958.5 L1114.2 959.3 L1115.2 960.1 L1116.2 960.9 L1117.2 961.7 L1118.2 962.5 L1119.2 963.3 L1120.2 964.0 L1121.2 964.8 L1122.2 965.6 L1123.2 966.4 L1124.2 967.2 L1125.2 967.9 L1126.2 968.7 L1127.2 969.5 L1128.2 970.3 L1129.2 971.0 L1130.2 971.8 L1131.2 972.6 L1132.2 973.3 L1133.2 974.1 L1134.2 974.8 L1135.2 975.6 L1136.2 976.4 L1137.2 977.1 L1138.2 977.9 L1139.2 978.6 L1140.2 979.4 L1141.2 980.1 L1141.5 980.4 M1192.7 1016.3 L1193.2 1016.6 L1194.2 1017.3 L1195.2 1017.9 L1196.2 1018.6 L1197.2 1019.2 L1198.2 1019.9 L1199.2 1020.5 L1200.2 1021.2 L1201.2 1021.8 L1202.2 1022.5 L1203.2 1023.1 L1204.2 1023.8 L1205.2 1024.4 L1206.2 1025.0 L1207.2 1025.7 L1208.2 1026.3 L1209.2 1026.9 L1210.2 1027.6 L1211.2 1028.2 L1212.2 1028.8 L1213.2 1029.4 L1214.2 1030.1 L1215.2 1030.7 L1216.2 1031.3 L1217.2 1031.9 L1218.2 1032.5 L1219.2 1033.1 L1220.2 1033.8 L1221.2 1034.4 L1222.2 1035.0 L1223.2 1035.6 L1224.2 1036.2 L1225.2 1036.8 L1226.2 1037.4 L1227.2 1038.0 L1228.2 1038.6 L1229.2 1039.2 L1230.2 1039.8 M1281.3 1068.3 L1282.2 1068.7 L1283.2 1069.2 L1284.2 1069.8 L1285.2 1070.3 L1286.2 1070.8 L1287.2 1071.3 L1288.2 1071.8 L1289.2 1072.3 L1290.2 1072.8 L1291.2 1073.3 L1292.2 1073.8 L1293.2 1074.3 L1294.2 1074.8 L1295.2 1075.3 L1296.2 1075.8 L1297.2 1076.3 L1298.2 1076.8 L1299.2 1077.3 L1300.2 1077.8 L1301.2 1078.3 L1302.2 1078.8 L1303.2 1079.3 L1304.2 1079.7 L1305.2 1080.2 L1306.2 1080.7 L1307.2 1081.2 L1308.2 1081.7 L1309.2 1082.1 L1310.2 1082.6 L1311.2 1083.1 L1312.2 1083.6 L1313.2 1084.0 L1314.2 1084.5 L1315.2 1085.0 L1316.2 1085.5 L1317.2 1085.9 L1318.2 1086.4 L1318.8 1086.7 M1370.0 1108.7 L1370.2 1108.8 L1371.2 1109.2 L1372.2 1109.6 L1373.2 1110.0 L1374.2 1110.4 L1375.2 1110.8 L1376.2 1111.2 L1377.2 1111.6 L1378.2 1112.0 L1379.2 1112.4 L1380.2 1112.8 L1381.2 1113.1 L1382.2 1113.5 L1383.2 1113.9 L1384.2 1114.3 L1385.2 1114.7 L1386.2 1115.0 L1387.2 1115.4 L1388.2 1115.8 L1389.2 1116.2 L1390.2 1116.6 L1391.2 1116.9 L1392.2 1117.3 L1393.2 1117.7 L1394.2 1118.0 L1395.2 1118.4 L1396.2 1118.8 L1397.2 1119.2 L1398.2 1119.5 L1399.2 1119.9 L1400.2 1120.2 L1401.2 1120.6 L1402.2 1121.0 L1403.2 1121.3 L1404.2 1121.7 L1405.2 1122.0 L1406.2 1122.4 L1407.2 1122.8 L1407.5 1122.9 M1458.6 1139.6 L1459.2 1139.8 L1460.2 1140.1 L1461.2 1140.4 L1462.2 1140.7 L1463.2 1141.0 L1464.2 1141.3 L1465.2 1141.6 L1466.2 1141.9 L1467.2 1142.2 L1468.2 1142.5 L1469.2 1142.8 L1470.2 1143.1 L1471.2 1143.4 L1472.2 1143.6 L1473.2 1143.9 L1474.2 1144.2 L1475.2 1144.5 L1476.2 1144.8 L1477.2 1145.1 L1478.2 1145.4 L1479.2 1145.6 L1480.2 1145.9 L1481.2 1146.2 L1482.2 1146.5 L1483.2 1146.8 L1484.2 1147.0 L1485.2 1147.3 L1486.2 1147.6 L1487.2 1147.9 L1488.2 1148.1 L1489.2 1148.4 L1490.2 1148.7 L1491.2 1149.0 L1492.2 1149.2 L1493.2 1149.5 L1494.2 1149.8 L1495.2 1150.0 L1496.1 1150.3 M1547.3 1162.9 L1548.2 1163.1 L1549.2 1163.3 L1550.2 1163.5 L1551.2 1163.8 L1552.2 1164.0 L1553.2 1164.2 L1554.2 1164.4 L1555.2 1164.6 L1556.2 1164.9 L1557.2 1165.1 L1558.2 1165.3 L1559.2 1165.5 L1560.2 1165.7 L1561.2 1165.9 L1562.2 1166.2 L1563.2 1166.4 L1564.2 1166.6 L1565.2 1166.8 L1566.2 1167.0 L1567.2 1167.2 L1568.2 1167.4 L1569.2 1167.6 L1570.2 1167.9 L1571.2 1168.1 L1572.2 1168.3 L1573.2 1168.5 L1574.2 1168.7 L1575.2 1168.9 L1576.2 1169.1 L1577.2 1169.3 L1578.2 1169.5 L1579.2 1169.7 L1580.2 1169.9 L1581.2 1170.1 L1582.2 1170.3 L1583.2 1170.5 L1584.2 1170.7 L1584.8 1170.8 M1635.9 1180.2 L1636.2 1180.2 L1637.2 1180.4 L1638.2 1180.5 L1639.2 1180.7 L1640.2 1180.9 L1641.2 1181.0 L1642.2 1181.2 L1643.2 1181.4 L1644.2 1181.5 L1645.2 1181.7 L1646.2 1181.9 L1647.2 1182.0 L1648.2 1182.2 L1649.2 1182.3 L1650.2 1182.5 L1651.2 1182.7 L1652.2 1182.8 L1653.2 1183.0 L1654.2 1183.1 L1655.2 1183.3 L1656.2 1183.4 L1657.2 1183.6 L1658.2 1183.7 L1659.2 1183.9 L1660.2 1184.1 L1661.2 1184.2 L1662.2 1184.4 L1663.2 1184.5 L1664.2 1184.7 L1665.2 1184.8 L1666.2 1185.0 L1667.2 1185.1 L1668.2 1185.3 L1669.2 1185.4 L1670.2 1185.6 L1671.2 1185.7 L1672.2 1185.9 L1673.2 1186.0 L1673.4 1186.0 M1724.6 1192.9 L1725.2 1193.0 L1726.2 1193.1 L1727.2 1193.2 L1728.2 1193.4 L1729.2 1193.5 L1730.2 1193.6 L1731.2 1193.7 L1732.2 1193.8 L1733.2 1194.0 L1734.2 1194.1 L1735.2 1194.2 L1736.2 1194.3 L1737.2 1194.4 L1738.2 1194.6 L1739.2 1194.7 L1740.2 1194.8 L1741.2 1194.9 L1742.2 1195.0 L1743.2 1195.1 L1744.2 1195.2 L1745.2 1195.4 L1746.2 1195.5 L1747.2 1195.6 L1748.2 1195.7 L1749.2 1195.8 L1750.2 1195.9 L1751.2 1196.0 L1752.2 1196.2 L1753.2 1196.3 L1754.2 1196.4 L1755.2 1196.5 L1756.2 1196.6 L1757.2 1196.7 L1758.2 1196.8 L1759.2 1196.9 L1760.2 1197.0 L1761.2 1197.1 L1762.1 1197.2 M1813.2 1202.3 L1814.2 1202.4 L1815.2 1202.4 L1816.2 1202.5 L1817.2 1202.6 L1818.2 1202.7 L1819.2 1202.8 L1820.2 1202.9 L1821.2 1203.0 L1822.2 1203.1 L1823.2 1203.2 L1824.2 1203.2 L1825.2 1203.3 L1826.2 1203.4 L1827.2 1203.5 L1828.2 1203.6 L1829.2 1203.7 L1830.2 1203.8 L1831.2 1203.8 L1832.2 1203.9 L1833.2 1204.0 L1834.2 1204.1 L1835.2 1204.2 L1836.2 1204.3 L1837.2 1204.3 L1838.2 1204.4 L1839.2 1204.5 L1840.2 1204.6 L1841.2 1204.7 L1842.2 1204.7 L1843.2 1204.8 L1844.2 1204.9 L1845.2 1205.0 L1846.2 1205.1 L1847.2 1205.1 L1848.2 1205.2 L1849.2 1205.3 L1850.2 1205.4 L1850.7 1205.4 M1901.9 1209.1 L1902.2 1209.1 L1903.2 1209.2 L1904.2 1209.3 L1905.2 1209.3 L1906.2 1209.4 L1907.2 1209.4 L1908.2 1209.5 L1909.2 1209.6 L1910.2 1209.6 L1911.2 1209.7 L1912.2 1209.8 L1913.2 1209.8 L1914.2 1209.9 L1915.2 1210.0 L1916.2 1210.0 L1917.2 1210.1 L1918.2 1210.1 L1919.2 1210.2 L1920.2 1210.3 L1921.2 1210.3 L1922.2 1210.4 L1923.2 1210.4 L1924.2 1210.5 L1925.2 1210.6 L1926.2 1210.6 L1927.2 1210.7 L1928.2 1210.7 L1929.2 1210.8 L1930.2 1210.9 L1931.2 1210.9 L1932.2 1211.0 L1933.2 1211.0 L1934.2 1211.1 L1935.2 1211.2 L1936.2 1211.2 L1937.2 1211.3 L1938.2 1211.3 L1939.2 1211.4" fill="none" stroke="#F00000" stroke-width="5.1" stroke-linecap="round" stroke-linejoin="round"/>
<g fill="#F00000"><circle cx="279.1" cy="69.8" r="2.55"/><circle cx="294.9" cy="80.8" r="2.55"/><circle cx="367.8" cy="137.3" r="2.55"/><circle cx="383.6" cy="150.8" r="2.55"/><circle cx="456.4" cy="218.9" r="2.55"/><circle cx="472.0" cy="234.7" r="2.55"/><circle cx="539.6" cy="307.5" r="2.55"/><circle cx="553.5" cy="323.3" r="2.55"/><circle cx="615.1" cy="396.2" r="2.55"/><circle cx="628.0" cy="412.0" r="2.55"/><circle cx="686.4" cy="484.8" r="2.55"/><circle cx="698.9" cy="500.6" r="2.55"/><circle cx="756.3" cy="573.5" r="2.55"/><circle cx="768.8" cy="589.3" r="2.55"/><circle cx="827.2" cy="662.1" r="2.55"/><circle cx="840.1" cy="677.9" r="2.55"/><circle cx="901.5" cy="750.8" r="2.55"/><circle cx="915.4" cy="766.6" r="2.55"/><circle cx="982.8" cy="839.4" r="2.55"/><circle cx="998.4" cy="855.2" r="2.55"/><circle cx="1071.3" cy="923.5" r="2.55"/><circle cx="1087.1" cy="937.1" r="2.55"/><circle cx="1159.9" cy="993.8" r="2.55"/><circle cx="1175.7" cy="1004.9" r="2.55"/><circle cx="1248.6" cy="1050.5" r="2.55"/><circle cx="1264.4" cy="1059.3" r="2.55"/><circle cx="1337.2" cy="1095.0" r="2.55"/><circle cx="1353.0" cy="1101.8" r="2.55"/><circle cx="1425.9" cy="1129.2" r="2.55"/><circle cx="1441.7" cy="1134.4" r="2.55"/><circle cx="1514.5" cy="1155.1" r="2.55"/><circle cx="1530.3" cy="1158.9" r="2.55"/><circle cx="1603.2" cy="1174.4" r="2.55"/><circle cx="1619.0" cy="1177.2" r="2.55"/><circle cx="1691.8" cy="1188.7" r="2.55"/><circle cx="1707.6" cy="1190.8" r="2.55"/><circle cx="1780.5" cy="1199.2" r="2.55"/><circle cx="1796.3" cy="1200.7" r="2.55"/><circle cx="1869.1" cy="1206.8" r="2.55"/><circle cx="1884.9" cy="1208.0" r="2.55"/></g>
<path d="M221.2 32.4 L222.2 32.7 L223.2 33.1 L224.2 33.4 L225.2 33.8 L226.2 34.1 L227.2 34.5 L228.2 34.8 L229.2 35.2 L230.2 35.5 L231.2 35.9 L232.2 36.2 L233.2 36.6 L234.2 36.9 L235.2 37.3 L236.2 37.7 L237.2 38.0 L238.2 38.4 L239.2 38.7 L240.2 39.1 L241.2 39.5 L242.2 39.8 L243.2 40.2 L244.2 40.6 L245.2 40.9 L246.2 41.3 L247.2 41.7 L248.2 42.1 L249.2 42.4 L250.2 42.8 L251.2 43.2 L252.2 43.5 L253.2 43.9 L254.2 44.3 L255.2 44.7 L256.2 45.1 L257.2 45.4 L258.2 45.8 L259.2 46.2 L260.2 46.6 L261.2 47.0 L262.2 47.4 L263.2 47.8 L264.2 48.1 L265.2 48.5 L266.2 48.9 L267.2 49.3 L268.2 49.7 L269.2 50.1 L270.2 50.5 L271.2 50.9 L272.2 51.3 L273.2 51.7 L274.2 52.1 L275.2 52.5 L276.2 52.9 L277.2 53.3 L278.2 53.7 L279.2 54.1 L280.2 54.5 L281.2 54.9 L282.2 55.3 L283.2 55.7 L284.2 56.1 L285.2 56.5 L286.2 57.0 L287.2 57.4 L288.2 57.8 L289.2 58.2 L290.2 58.6 L291.2 59.0 L292.2 59.5 L293.2 59.9 L294.2 60.3 L295.2 60.7 L296.2 61.1 L297.2 61.6 L298.2 62.0 L299.2 62.4 L300.2 62.8 L301.2 63.3 L302.2 63.7 L303.2 64.1 L304.2 64.6 L305.2 65.0 L306.2 65.4 L307.2 65.9 L308.2 66.3 L309.2 66.7 L310.2 67.2 L311.2 67.6 L312.2 68.1 L313.2 68.5 L314.2 69.0 L315.2 69.4 L316.2 69.8 L317.2 70.3 L318.2 70.7 L319.2 71.2 L320.2 71.6 L321.2 72.1 L322.2 72.5 L323.2 73.0 L324.2 73.5 L325.2 73.9 L326.2 74.4 L327.2 74.8 L328.2 75.3 L329.2 75.8 L330.2 76.2 L331.2 76.7 L332.2 77.1 L333.2 77.6 L334.2 78.1 L335.2 78.5 L336.2 79.0 L337.2 79.5 L338.2 80.0 L339.2 80.4 L340.2 80.9 L341.2 81.4 L342.2 81.9 L343.2 82.3 L344.2 82.8 L345.2 83.3 L346.2 83.8 L347.2 84.3 L348.2 84.7 L349.2 85.2 L350.2 85.7 L351.2 86.2 L352.2 86.7 L353.2 87.2 L354.2 87.7 L355.2 88.2 L356.2 88.7 L357.2 89.2 L358.2 89.7 L359.2 90.2 L360.2 90.7 L361.2 91.2 L362.2 91.7 L363.2 92.2 L364.2 92.7 L365.2 93.2 L366.2 93.7 L367.2 94.2 L368.2 94.7 L369.2 95.2 L370.2 95.7 L371.2 96.2 L372.2 96.7 L373.2 97.3 L374.2 97.8 L375.2 98.3 L376.2 98.8 L377.2 99.3 L378.2 99.9 L379.2 100.4 L380.2 100.9 L381.2 101.4 L382.2 102.0 L383.2 102.5 L384.2 103.0 L385.2 103.5 L386.2 104.1 L387.2 104.6 L388.2 105.1 L389.2 105.7 L390.2 106.2 L391.2 106.8 L392.2 107.3 L393.2 107.8 L394.2 108.4 L395.2 108.9 L396.2 109.5 L397.2 110.0 L398.2 110.6 L399.2 111.1 L400.2 111.7 L401.2 112.2 L402.2 112.8 L403.2 113.3 L404.2 113.9 L405.2 114.4 L406.2 115.0 L407.2 115.6 L408.2 116.1 L409.2 116.7 L410.2 117.2 L411.2 117.8 L412.2 118.4 L413.2 118.9 L414.2 119.5 L415.2 120.1 L416.2 120.7 L417.2 121.2 L418.2 121.8 L419.2 122.4 L420.2 123.0 L421.2 123.5 L422.2 124.1 L423.2 124.7 L424.2 125.3 L425.2 125.9 L426.2 126.4 L427.2 127.0 L428.2 127.6 L429.2 128.2 L430.2 128.8 L431.2 129.4 L432.2 130.0 L433.2 130.6 L434.2 131.2 L435.2 131.8 L436.2 132.4 L437.2 133.0 L438.2 133.6 L439.2 134.2 L440.2 134.8 L441.2 135.4 L442.2 136.0 L443.2 136.6 L444.2 137.2 L445.2 137.8 L446.2 138.4 L447.2 139.1 L448.2 139.7 L449.2 140.3 L450.2 140.9 L451.2 141.5 L452.2 142.1 L453.2 142.8 L454.2 143.4 L455.2 144.0 L456.2 144.6 L457.2 145.3 L458.2 145.9 L459.2 146.5 L460.2 147.2 L461.2 147.8 L462.2 148.4 L463.2 149.1 L464.2 149.7 L465.2 150.3 L466.2 151.0 L467.2 151.6 L468.2 152.3 L469.2 152.9 L470.2 153.6 L471.2 154.2 L472.2 154.9 L473.2 155.5 L474.2 156.2 L475.2 156.8 L476.2 157.5 L477.2 158.1 L478.2 158.8 L479.2 159.4 L480.2 160.1 L481.2 160.8 L482.2 161.4 L483.2 162.1 L484.2 162.7 L485.2 163.4 L486.2 164.1 L487.2 164.8 L488.2 165.4 L489.2 166.1 L490.2 166.8 L491.2 167.5 L492.2 168.1 L493.2 168.8 L494.2 169.5 L495.2 170.2 L496.2 170.9 L497.2 171.5 L498.2 172.2 L499.2 172.9 L500.2 173.6 L501.2 174.3 L502.2 175.0 L503.2 175.7 L504.2 176.4 L505.2 177.1 L506.2 177.8 L507.2 178.5 L508.2 179.2 L509.2 179.9 L510.2 180.6 L511.2 181.3 L512.2 182.0 L513.2 182.7 L514.2 183.4 L515.2 184.1 L516.2 184.8 L517.2 185.5 L518.2 186.2 L519.2 187.0 L520.2 187.7 L521.2 188.4 L522.2 189.1 L523.2 189.8 L524.2 190.6 L525.2 191.3 L526.2 192.0 L527.2 192.7 L528.2 193.5 L529.2 194.2 L530.2 194.9 L531.2 195.7 L532.2 196.4 L533.2 197.1 L534.2 197.9 L535.2 198.6 L536.2 199.3 L537.2 200.1 L538.2 200.8 L539.2 201.6 L540.2 202.3 L541.2 203.1 L542.2 203.8 L543.2 204.6 L544.2 205.3 L545.2 206.1 L546.2 206.8 L547.2 207.6 L548.2 208.3 L549.2 209.1 L550.2 209.8 L551.2 210.6 L552.2 211.4 L553.2 212.1 L554.2 212.9 L555.2 213.7 L556.2 214.4 L557.2 215.2 L558.2 216.0 L559.2 216.8 L560.2 217.5 L561.2 218.3 L562.2 219.1 L563.2 219.9 L564.2 220.6 L565.2 221.4 L566.2 222.2 L567.2 223.0 L568.2 223.8 L569.2 224.6 L570.2 225.4 L571.2 226.1 L572.2 226.9 L573.2 227.7 L574.2 228.5 L575.2 229.3 L576.2 230.1 L577.2 230.9 L578.2 231.7 L579.2 232.5 L580.2 233.3 L581.2 234.1 L582.2 234.9 L583.2 235.7 L584.2 236.5 L585.2 237.4 L586.2 238.2 L587.2 239.0 L588.2 239.8 L589.2 240.6 L590.2 241.4 L591.2 242.2 L592.2 243.1 L593.2 243.9 L594.2 244.7 L595.2 245.5 L596.2 246.4 L597.2 247.2 L598.2 248.0 L599.2 248.8 L600.2 249.7 L601.2 250.5 L602.2 251.3 L603.2 252.2 L604.2 253.0 L605.2 253.9 L606.2 254.7 L607.2 255.5 L608.2 256.4 L609.2 257.2 L610.2 258.1 L611.2 258.9 L612.2 259.8 L613.2 260.6 L614.2 261.5 L615.2 262.3 L616.2 263.2 L617.2 264.0 L618.2 264.9 L619.2 265.7 L620.2 266.6 L621.2 267.5 L622.2 268.3 L623.2 269.2 L624.2 270.0 L625.2 270.9 L626.2 271.8 L627.2 272.6 L628.2 273.5 L629.2 274.4 L630.2 275.3 L631.2 276.1 L632.2 277.0 L633.2 277.9 L634.2 278.8 L635.2 279.6 L636.2 280.5 L637.2 281.4 L638.2 282.3 L639.2 283.2 L640.2 284.1 L641.2 284.9 L642.2 285.8 L643.2 286.7 L644.2 287.6 L645.2 288.5 L646.2 289.4 L647.2 290.3 L648.2 291.2 L649.2 292.1 L650.2 293.0 L651.2 293.9 L652.2 294.8 L653.2 295.7 L654.2 296.6 L655.2 297.5 L656.2 298.4 L657.2 299.3 L658.2 300.2 L659.2 301.1 L660.2 302.0 L661.2 303.0 L662.2 303.9 L663.2 304.8 L664.2 305.7 L665.2 306.6 L666.2 307.5 L667.2 308.5 L668.2 309.4 L669.2 310.3 L670.2 311.2 L671.2 312.2 L672.2 313.1 L673.2 314.0 L674.2 314.9 L675.2 315.9 L676.2 316.8 L677.2 317.7 L678.2 318.7 L679.2 319.6 L680.2 320.5 L681.2 321.5 L682.2 322.4 L683.2 323.4 L684.2 324.3 L685.2 325.3 L686.2 326.2 L687.2 327.1 L688.2 328.1 L689.2 329.0 L690.2 330.0 L691.2 330.9 L692.2 331.9 L693.2 332.8 L694.2 333.8 L695.2 334.8 L696.2 335.7 L697.2 336.7 L698.2 337.6 L699.2 338.6 L700.2 339.5 L701.2 340.5 L702.2 341.5 L703.2 342.4 L704.2 343.4 L705.2 344.4 L706.2 345.3 L707.2 346.3 L708.2 347.3 L709.2 348.2 L710.2 349.2 L711.2 350.2 L712.2 351.2 L713.2 352.1 L714.2 353.1 L715.2 354.1 L716.2 355.1 L717.2 356.1 L718.2 357.0 L719.2 358.0 L720.2 359.0 L721.2 360.0 L722.2 361.0 L723.2 362.0 L724.2 363.0 L725.2 363.9 L726.2 364.9 L727.2 365.9 L728.2 366.9 L729.2 367.9 L730.2 368.9 L731.2 369.9 L732.2 370.9 L733.2 371.9 L734.2 372.9 L735.2 373.9 L736.2 374.9 L737.2 375.9 L738.2 376.9 L739.2 377.9 L740.2 378.9 L741.2 379.9 L742.2 380.9 L743.2 381.9 L744.2 382.9 L745.2 383.9 L746.2 385.0 L747.2 386.0 L748.2 387.0 L749.2 388.0 L750.2 389.0 L751.2 390.0 L752.2 391.0 L753.2 392.1 L754.2 393.1 L755.2 394.1 L756.2 395.1 L757.2 396.1 L758.2 397.2 L759.2 398.2 L760.2 399.2 L761.2 400.2 L762.2 401.3 L763.2 402.3 L764.2 403.3 L765.2 404.4 L766.2 405.4 L767.2 406.4 L768.2 407.4 L769.2 408.5 L770.2 409.5 L771.2 410.5 L772.2 411.6 L773.2 412.6 L774.2 413.7 L775.2 414.7 L776.2 415.7 L777.2 416.8 L778.2 417.8 L779.2 418.9 L780.2 419.9 L781.2 420.9 L782.2 422.0 L783.2 423.0 L784.2 424.1 L785.2 425.1 L786.2 426.2 L787.2 427.2 L788.2 428.3 L789.2 429.3 L790.2 430.4 L791.2 431.4 L792.2 432.5 L793.2 433.5 L794.2 434.6 L795.2 435.6 L796.2 436.7 L797.2 437.7 L798.2 438.8 L799.2 439.8 L800.2 440.9 L801.2 442.0 L802.2 443.0 L803.2 444.1 L804.2 445.1 L805.2 446.2 L806.2 447.3 L807.2 448.3 L808.2 449.4 L809.2 450.5 L810.2 451.5 L811.2 452.6 L812.2 453.7 L813.2 454.7 L814.2 455.8 L815.2 456.9 L816.2 457.9 L817.2 459.0 L818.2 460.1 L819.2 461.1 L820.2 462.2 L821.2 463.3 L822.2 464.4 L823.2 465.4 L824.2 466.5 L825.2 467.6 L826.2 468.6 L827.2 469.7 L828.2 470.8 L829.2 471.9 L830.2 473.0 L831.2 474.0 L832.2 475.1 L833.2 476.2 L834.2 477.3 L835.2 478.3 L836.2 479.4 L837.2 480.5 L838.2 481.6 L839.2 482.7 L840.2 483.8 L841.2 484.8 L842.2 485.9 L843.2 487.0 L844.2 488.1 L845.2 489.2 L846.2 490.3 L847.2 491.4 L848.2 492.4 L849.2 493.5 L850.2 494.6 L851.2 495.7 L852.2 496.8 L853.2 497.9 L854.2 499.0 L855.2 500.1 L856.2 501.1 L857.2 502.2 L858.2 503.3 L859.2 504.4 L860.2 505.5 L861.2 506.6 L862.2 507.7 L863.2 508.8 L864.2 509.9 L865.2 511.0 L866.2 512.1 L867.2 513.2 L868.2 514.3 L869.2 515.4 L870.2 516.4 L871.2 517.5 L872.2 518.6 L873.2 519.7 L874.2 520.8 L875.2 521.9 L876.2 523.0 L877.2 524.1 L878.2 525.2 L879.2 526.3 L880.2 527.4 L881.2 528.5 L882.2 529.6 L883.2 530.7 L884.2 531.8 L885.2 532.9 L886.2 534.0 L887.2 535.1 L888.2 536.2 L889.2 537.3 L890.2 538.4 L891.2 539.5 L892.2 540.6 L893.2 541.7 L894.2 542.8 L895.2 543.9 L896.2 545.0 L897.2 546.1 L898.2 547.2 L899.2 548.3 L900.2 549.4 L901.2 550.5 L902.2 551.6 L903.2 552.7 L904.2 553.8 L905.2 555.0 L906.2 556.1 L907.2 557.2 L908.2 558.3 L909.2 559.4 L910.2 560.5 L911.2 561.6 L912.2 562.7 L913.2 563.8 L914.2 564.9 L915.2 566.0 L916.2 567.1 L917.2 568.2 L918.2 569.3 L919.2 570.4 L920.2 571.5 L921.2 572.6 L922.2 573.7 L923.2 574.8 L924.2 575.9 L925.2 577.0 L926.2 578.1 L927.2 579.2 L928.2 580.3 L929.2 581.4 L930.2 582.6 L931.2 583.7 L932.2 584.8 L933.2 585.9 L934.2 587.0 L935.2 588.1 L936.2 589.2 L937.2 590.3 L938.2 591.4 L939.2 592.5 L940.2 593.6 L941.2 594.7 L942.2 595.8 L943.2 596.9 L944.2 598.0 L945.2 599.1 L946.2 600.2 L947.2 601.3 L948.2 602.4 L949.2 603.5 L950.2 604.6 L951.2 605.7 L952.2 606.8 L953.2 607.9 L954.2 609.0 L955.2 610.1 L956.2 611.2 L957.2 612.3 L958.2 613.4 L959.2 614.5 L960.2 615.6 L961.2 616.7 L962.2 617.8 L963.2 618.9 L964.2 620.0 L965.2 621.1 L966.2 622.2 L967.2 623.3 L968.2 624.4 L969.2 625.5 L970.2 626.6 L971.2 627.7 L972.2 628.8 L973.2 629.9 L974.2 631.0 L975.2 632.1 L976.2 633.2 L977.2 634.3 L978.2 635.4 L979.2 636.5 L980.2 637.6 L981.2 638.7 L982.2 639.8 L983.2 640.9 L984.2 641.9 L985.2 643.0 L986.2 644.1 L987.2 645.2 L988.2 646.3 L989.2 647.4 L990.2 648.5 L991.2 649.6 L992.2 650.7 L993.2 651.8 L994.2 652.9 L995.2 653.9 L996.2 655.0 L997.2 656.1 L998.2 657.2 L999.2 658.3 L1000.2 659.4 L1001.2 660.5 L1002.2 661.5 L1003.2 662.6 L1004.2 663.7 L1005.2 664.8 L1006.2 665.9 L1007.2 667.0 L1008.2 668.0 L1009.2 669.1 L1010.2 670.2 L1011.2 671.3 L1012.2 672.4 L1013.2 673.4 L1014.2 674.5 L1015.2 675.6 L1016.2 676.7 L1017.2 677.8 L1018.2 678.8 L1019.2 679.9 L1020.2 681.0 L1021.2 682.1 L1022.2 683.1 L1023.2 684.2 L1024.2 685.3 L1025.2 686.4 L1026.2 687.4 L1027.2 688.5 L1028.2 689.6 L1029.2 690.6 L1030.2 691.7 L1031.2 692.8 L1032.2 693.8 L1033.2 694.9 L1034.2 696.0 L1035.2 697.0 L1036.2 698.1 L1037.2 699.2 L1038.2 700.2 L1039.2 701.3 L1040.2 702.4 L1041.2 703.4 L1042.2 704.5 L1043.2 705.5 L1044.2 706.6 L1045.2 707.7 L1046.2 708.7 L1047.2 709.8 L1048.2 710.8 L1049.2 711.9 L1050.2 712.9 L1051.2 714.0 L1052.2 715.1 L1053.2 716.1 L1054.2 717.2 L1055.2 718.2 L1056.2 719.3 L1057.2 720.3 L1058.2 721.4 L1059.2 722.4 L1060.2 723.5 L1061.2 724.5 L1062.2 725.5 L1063.2 726.6 L1064.2 727.6 L1065.2 728.7 L1066.2 729.7 L1067.2 730.8 L1068.2 731.8 L1069.2 732.8 L1070.2 733.9 L1071.2 734.9 L1072.2 736.0 L1073.2 737.0 L1074.2 738.0 L1075.2 739.1 L1076.2 740.1 L1077.2 741.1 L1078.2 742.2 L1079.2 743.2 L1080.2 744.2 L1081.2 745.3 L1082.2 746.3 L1083.2 747.3 L1084.2 748.3 L1085.2 749.4 L1086.2 750.4 L1087.2 751.4 L1088.2 752.4 L1089.2 753.5 L1090.2 754.5 L1091.2 755.5 L1092.2 756.5 L1093.2 757.5 L1094.2 758.6 L1095.2 759.6 L1096.2 760.6 L1097.2 761.6 L1098.2 762.6 L1099.2 763.6 L1100.2 764.6 L1101.2 765.7 L1102.2 766.7 L1103.2 767.7 L1104.2 768.7 L1105.2 769.7 L1106.2 770.7 L1107.2 771.7 L1108.2 772.7 L1109.2 773.7 L1110.2 774.7 L1111.2 775.7 L1112.2 776.7 L1113.2 777.7 L1114.2 778.7 L1115.2 779.7 L1116.2 780.7 L1117.2 781.7 L1118.2 782.7 L1119.2 783.7 L1120.2 784.7 L1121.2 785.6 L1122.2 786.6 L1123.2 787.6 L1124.2 788.6 L1125.2 789.6 L1126.2 790.6 L1127.2 791.6 L1128.2 792.5 L1129.2 793.5 L1130.2 794.5 L1131.2 795.5 L1132.2 796.5 L1133.2 797.4 L1134.2 798.4 L1135.2 799.4 L1136.2 800.4 L1137.2 801.3 L1138.2 802.3 L1139.2 803.3 L1140.2 804.2 L1141.2 805.2 L1142.2 806.2 L1143.2 807.1 L1144.2 808.1 L1145.2 809.1 L1146.2 810.0 L1147.2 811.0 L1148.2 812.0 L1149.2 812.9 L1150.2 813.9 L1151.2 814.8 L1152.2 815.8 L1153.2 816.7 L1154.2 817.7 L1155.2 818.6 L1156.2 819.6 L1157.2 820.5 L1158.2 821.5 L1159.2 822.4 L1160.2 823.4 L1161.2 824.3 L1162.2 825.3 L1163.2 826.2 L1164.2 827.1 L1165.2 828.1 L1166.2 829.0 L1167.2 830.0 L1168.2 830.9 L1169.2 831.8 L1170.2 832.8 L1171.2 833.7 L1172.2 834.6 L1173.2 835.5 L1174.2 836.5 L1175.2 837.4 L1176.2 838.3 L1177.2 839.3 L1178.2 840.2 L1179.2 841.1 L1180.2 842.0 L1181.2 842.9 L1182.2 843.9 L1183.2 844.8 L1184.2 845.7 L1185.2 846.6 L1186.2 847.5 L1187.2 848.4 L1188.2 849.3 L1189.2 850.2 L1190.2 851.2 L1191.2 852.1 L1192.2 853.0 L1193.2 853.9 L1194.2 854.8 L1195.2 855.7 L1196.2 856.6 L1197.2 857.5 L1198.2 858.4 L1199.2 859.3 L1200.2 860.2 L1201.2 861.0 L1202.2 861.9 L1203.2 862.8 L1204.2 863.7 L1205.2 864.6 L1206.2 865.5 L1207.2 866.4 L1208.2 867.3 L1209.2 868.1 L1210.2 869.0 L1211.2 869.9 L1212.2 870.8 L1213.2 871.7 L1214.2 872.5 L1215.2 873.4 L1216.2 874.3 L1217.2 875.2 L1218.2 876.0 L1219.2 876.9 L1220.2 877.8 L1221.2 878.6 L1222.2 879.5 L1223.2 880.4 L1224.2 881.2 L1225.2 882.1 L1226.2 882.9 L1227.2 883.8 L1228.2 884.7 L1229.2 885.5 L1230.2 886.4 L1231.2 887.2 L1232.2 888.1 L1233.2 888.9 L1234.2 889.8 L1235.2 890.6 L1236.2 891.5 L1237.2 892.3 L1238.2 893.1 L1239.2 894.0 L1240.2 894.8 L1241.2 895.7 L1242.2 896.5 L1243.2 897.3 L1244.2 898.2 L1245.2 899.0 L1246.2 899.8 L1247.2 900.7 L1248.2 901.5 L1249.2 902.3 L1250.2 903.2 L1251.2 904.0 L1252.2 904.8 L1253.2 905.6 L1254.2 906.4 L1255.2 907.3 L1256.2 908.1 L1257.2 908.9 L1258.2 909.7 L1259.2 910.5 L1260.2 911.3 L1261.2 912.1 L1262.2 913.0 L1263.2 913.8 L1264.2 914.6 L1265.2 915.4 L1266.2 916.2 L1267.2 917.0 L1268.2 917.8 L1269.2 918.6 L1270.2 919.4 L1271.2 920.2 L1272.2 921.0 L1273.2 921.8 L1274.2 922.6 L1275.2 923.4 L1276.2 924.1 L1277.2 924.9 L1278.2 925.7 L1279.2 926.5 L1280.2 927.3 L1281.2 928.1 L1282.2 928.8 L1283.2 929.6 L1284.2 930.4 L1285.2 931.2 L1286.2 932.0 L1287.2 932.7 L1288.2 933.5 L1289.2 934.3 L1290.2 935.0 L1291.2 935.8 L1292.2 936.6 L1293.2 937.3 L1294.2 938.1 L1295.2 938.9 L1296.2 939.6 L1297.2 940.4 L1298.2 941.2 L1299.2 941.9 L1300.2 942.7 L1301.2 943.4 L1302.2 944.2 L1303.2 944.9 L1304.2 945.7 L1305.2 946.4 L1306.2 947.2 L1307.2 947.9 L1308.2 948.7 L1309.2 949.4 L1310.2 950.1 L1311.2 950.9 L1312.2 951.6 L1313.2 952.4 L1314.2 953.1 L1315.2 953.8 L1316.2 954.6 L1317.2 955.3 L1318.2 956.0 L1319.2 956.7 L1320.2 957.5 L1321.2 958.2 L1322.2 958.9 L1323.2 959.6 L1324.2 960.4 L1325.2 961.1 L1326.2 961.8 L1327.2 962.5 L1328.2 963.2 L1329.2 963.9 L1330.2 964.7 L1331.2 965.4 L1332.2 966.1 L1333.2 966.8 L1334.2 967.5 L1335.2 968.2 L1336.2 968.9 L1337.2 969.6 L1338.2 970.3 L1339.2 971.0 L1340.2 971.7 L1341.2 972.4 L1342.2 973.1 L1343.2 973.8 L1344.2 974.5 L1345.2 975.2 L1346.2 975.9 L1347.2 976.5 L1348.2 977.2 L1349.2 977.9 L1350.2 978.6 L1351.2 979.3 L1352.2 980.0 L1353.2 980.6 L1354.2 981.3 L1355.2 982.0 L1356.2 982.7 L1357.2 983.3 L1358.2 984.0 L1359.2 984.7 L1360.2 985.4 L1361.2 986.0 L1362.2 986.7 L1363.2 987.4 L1364.2 988.0 L1365.2 988.7 L1366.2 989.3 L1367.2 990.0 L1368.2 990.7 L1369.2 991.3 L1370.2 992.0 L1371.2 992.6 L1372.2 993.3 L1373.2 993.9 L1374.2 994.6 L1375.2 995.2 L1376.2 995.9 L1377.2 996.5 L1378.2 997.2 L1379.2 997.8 L1380.2 998.4 L1381.2 999.1 L1382.2 999.7 L1383.2 1000.4 L1384.2 1001.0 L1385.2 1001.6 L1386.2 1002.3 L1387.2 1002.9 L1388.2 1003.5 L1389.2 1004.2 L1390.2 1004.8 L1391.2 1005.4 L1392.2 1006.0 L1393.2 1006.7 L1394.2 1007.3 L1395.2 1007.9 L1396.2 1008.5 L1397.2 1009.1 L1398.2 1009.7 L1399.2 1010.4 L1400.2 1011.0 L1401.2 1011.6 L1402.2 1012.2 L1403.2 1012.8 L1404.2 1013.4 L1405.2 1014.0 L1406.2 1014.6 L1407.2 1015.2 L1408.2 1015.8 L1409.2 1016.4 L1410.2 1017.0 L1411.2 1017.6 L1412.2 1018.2 L1413.2 1018.8 L1414.2 1019.4 L1415.2 1020.0 L1416.2 1020.6 L1417.2 1021.2 L1418.2 1021.8 L1419.2 1022.4 L1420.2 1023.0 L1421.2 1023.5 L1422.2 1024.1 L1423.2 1024.7 L1424.2 1025.3 L1425.2 1025.9 L1426.2 1026.4 L1427.2 1027.0 L1428.2 1027.6 L1429.2 1028.2 L1430.2 1028.7 L1431.2 1029.3 L1432.2 1029.9 L1433.2 1030.4 L1434.2 1031.0 L1435.2 1031.6 L1436.2 1032.1 L1437.2 1032.7 L1438.2 1033.3 L1439.2 1033.8 L1440.2 1034.4 L1441.2 1034.9 L1442.2 1035.5 L1443.2 1036.1 L1444.2 1036.6 L1445.2 1037.2 L1446.2 1037.7 L1447.2 1038.3 L1448.2 1038.8 L1449.2 1039.4 L1450.2 1039.9 L1451.2 1040.5 L1452.2 1041.0 L1453.2 1041.5 L1454.2 1042.1 L1455.2 1042.6 L1456.2 1043.2 L1457.2 1043.7 L1458.2 1044.2 L1459.2 1044.8 L1460.2 1045.3 L1461.2 1045.8 L1462.2 1046.4 L1463.2 1046.9 L1464.2 1047.4 L1465.2 1047.9 L1466.2 1048.5 L1467.2 1049.0 L1468.2 1049.5 L1469.2 1050.0 L1470.2 1050.6 L1471.2 1051.1 L1472.2 1051.6 L1473.2 1052.1 L1474.2 1052.6 L1475.2 1053.1 L1476.2 1053.6 L1477.2 1054.2 L1478.2 1054.7 L1479.2 1055.2 L1480.2 1055.7 L1481.2 1056.2 L1482.2 1056.7 L1483.2 1057.2 L1484.2 1057.7 L1485.2 1058.2 L1486.2 1058.7 L1487.2 1059.2 L1488.2 1059.7 L1489.2 1060.2 L1490.2 1060.7 L1491.2 1061.2 L1492.2 1061.7 L1493.2 1062.2 L1494.2 1062.7 L1495.2 1063.1 L1496.2 1063.6 L1497.2 1064.1 L1498.2 1064.6 L1499.2 1065.1 L1500.2 1065.6 L1501.2 1066.1 L1502.2 1066.5 L1503.2 1067.0 L1504.2 1067.5 L1505.2 1068.0 L1506.2 1068.4 L1507.2 1068.9 L1508.2 1069.4 L1509.2 1069.9 L1510.2 1070.3 L1511.2 1070.8 L1512.2 1071.3 L1513.2 1071.7 L1514.2 1072.2 L1515.2 1072.7 L1516.2 1073.1 L1517.2 1073.6 L1518.2 1074.1 L1519.2 1074.5 L1520.2 1075.0 L1521.2 1075.4 L1522.2 1075.9 L1523.2 1076.3 L1524.2 1076.8 L1525.2 1077.2 L1526.2 1077.7 L1527.2 1078.1 L1528.2 1078.6 L1529.2 1079.0 L1530.2 1079.5 L1531.2 1079.9 L1532.2 1080.4 L1533.2 1080.8 L1534.2 1081.3 L1535.2 1081.7 L1536.2 1082.1 L1537.2 1082.6 L1538.2 1083.0 L1539.2 1083.5 L1540.2 1083.9 L1541.2 1084.3 L1542.2 1084.8 L1543.2 1085.2 L1544.2 1085.6 L1545.2 1086.1 L1546.2 1086.5 L1547.2 1086.9 L1548.2 1087.3 L1549.2 1087.8 L1550.2 1088.2 L1551.2 1088.6 L1552.2 1089.0 L1553.2 1089.4 L1554.2 1089.9 L1555.2 1090.3 L1556.2 1090.7 L1557.2 1091.1 L1558.2 1091.5 L1559.2 1091.9 L1560.2 1092.4 L1561.2 1092.8 L1562.2 1093.2 L1563.2 1093.6 L1564.2 1094.0 L1565.2 1094.4 L1566.2 1094.8 L1567.2 1095.2 L1568.2 1095.6 L1569.2 1096.0 L1570.2 1096.4 L1571.2 1096.8 L1572.2 1097.2 L1573.2 1097.6 L1574.2 1098.0 L1575.2 1098.4 L1576.2 1098.8 L1577.2 1099.2 L1578.2 1099.6 L1579.2 1100.0 L1580.2 1100.4 L1581.2 1100.8 L1582.2 1101.2 L1583.2 1101.6 L1584.2 1101.9 L1585.2 1102.3 L1586.2 1102.7 L1587.2 1103.1 L1588.2 1103.5 L1589.2 1103.9 L1590.2 1104.2 L1591.2 1104.6 L1592.2 1105.0 L1593.2 1105.4 L1594.2 1105.8 L1595.2 1106.1 L1596.2 1106.5 L1597.2 1106.9 L1598.2 1107.2 L1599.2 1107.6 L1600.2 1108.0 L1601.2 1108.4 L1602.2 1108.7 L1603.2 1109.1 L1604.2 1109.5 L1605.2 1109.8 L1606.2 1110.2 L1607.2 1110.6 L1608.2 1110.9 L1609.2 1111.3 L1610.2 1111.6 L1611.2 1112.0 L1612.2 1112.4 L1613.2 1112.7 L1614.2 1113.1 L1615.2 1113.4 L1616.2 1113.8 L1617.2 1114.1 L1618.2 1114.5 L1619.2 1114.8 L1620.2 1115.2 L1621.2 1115.5 L1622.2 1115.9 L1623.2 1116.2 L1624.2 1116.6 L1625.2 1116.9 L1626.2 1117.3 L1627.2 1117.6 L1628.2 1118.0 L1629.2 1118.3 L1630.2 1118.6 L1631.2 1119.0 L1632.2 1119.3 L1633.2 1119.6 L1634.2 1120.0 L1635.2 1120.3 L1636.2 1120.7 L1637.2 1121.0 L1638.2 1121.3 L1639.2 1121.7 L1640.2 1122.0 L1641.2 1122.3 L1642.2 1122.6 L1643.2 1123.0 L1644.2 1123.3 L1645.2 1123.6 L1646.2 1124.0 L1647.2 1124.3 L1648.2 1124.6 L1649.2 1124.9 L1650.2 1125.2 L1651.2 1125.6 L1652.2 1125.9 L1653.2 1126.2 L1654.2 1126.5 L1655.2 1126.8 L1656.2 1127.2 L1657.2 1127.5 L1658.2 1127.8 L1659.2 1128.1 L1660.2 1128.4 L1661.2 1128.7 L1662.2 1129.0 L1663.2 1129.4 L1664.2 1129.7 L1665.2 1130.0 L1666.2 1130.3 L1667.2 1130.6 L1668.2 1130.9 L1669.2 1131.2 L1670.2 1131.5 L1671.2 1131.8 L1672.2 1132.1 L1673.2 1132.4 L1674.2 1132.7 L1675.2 1133.0 L1676.2 1133.3 L1677.2 1133.6 L1678.2 1133.9 L1679.2 1134.2 L1680.2 1134.5 L1681.2 1134.8 L1682.2 1135.1 L1683.2 1135.4 L1684.2 1135.7 L1685.2 1136.0 L1686.2 1136.2 L1687.2 1136.5 L1688.2 1136.8 L1689.2 1137.1 L1690.2 1137.4 L1691.2 1137.7 L1692.2 1138.0 L1693.2 1138.3 L1694.2 1138.5 L1695.2 1138.8 L1696.2 1139.1 L1697.2 1139.4 L1698.2 1139.7 L1699.2 1139.9 L1700.2 1140.2 L1701.2 1140.5 L1702.2 1140.8 L1703.2 1141.1 L1704.2 1141.3 L1705.2 1141.6 L1706.2 1141.9 L1707.2 1142.2 L1708.2 1142.4 L1709.2 1142.7 L1710.2 1143.0 L1711.2 1143.2 L1712.2 1143.5 L1713.2 1143.8 L1714.2 1144.0 L1715.2 1144.3 L1716.2 1144.6 L1717.2 1144.8 L1718.2 1145.1 L1719.2 1145.4 L1720.2 1145.6 L1721.2 1145.9 L1722.2 1146.2 L1723.2 1146.4 L1724.2 1146.7 L1725.2 1146.9 L1726.2 1147.2 L1727.2 1147.4 L1728.2 1147.7 L1729.2 1148.0 L1730.2 1148.2 L1731.2 1148.5 L1732.2 1148.7 L1733.2 1149.0 L1734.2 1149.2 L1735.2 1149.5 L1736.2 1149.7 L1737.2 1150.0 L1738.2 1150.2 L1739.2 1150.5 L1740.2 1150.7 L1741.2 1151.0 L1742.2 1151.2 L1743.2 1151.5 L1744.2 1151.7 L1745.2 1152.0 L1746.2 1152.2 L1747.2 1152.4 L1748.2 1152.7 L1749.2 1152.9 L1750.2 1153.2 L1751.2 1153.4 L1752.2 1153.6 L1753.2 1153.9 L1754.2 1154.1 L1755.2 1154.4 L1756.2 1154.6 L1757.2 1154.8 L1758.2 1155.1 L1759.2 1155.3 L1760.2 1155.5 L1761.2 1155.8 L1762.2 1156.0 L1763.2 1156.2 L1764.2 1156.5 L1765.2 1156.7 L1766.2 1156.9 L1767.2 1157.1 L1768.2 1157.4 L1769.2 1157.6 L1770.2 1157.8 L1771.2 1158.1 L1772.2 1158.3 L1773.2 1158.5 L1774.2 1158.7 L1775.2 1158.9 L1776.2 1159.2 L1777.2 1159.4 L1778.2 1159.6 L1779.2 1159.8 L1780.2 1160.1 L1781.2 1160.3 L1782.2 1160.5 L1783.2 1160.7 L1784.2 1160.9 L1785.2 1161.1 L1786.2 1161.4 L1787.2 1161.6 L1788.2 1161.8 L1789.2 1162.0 L1790.2 1162.2 L1791.2 1162.4 L1792.2 1162.6 L1793.2 1162.8 L1794.2 1163.1 L1795.2 1163.3 L1796.2 1163.5 L1797.2 1163.7 L1798.2 1163.9 L1799.2 1164.1 L1800.2 1164.3 L1801.2 1164.5 L1802.2 1164.7 L1803.2 1164.9 L1804.2 1165.1 L1805.2 1165.3 L1806.2 1165.5 L1807.2 1165.7 L1808.2 1165.9 L1809.2 1166.1 L1810.2 1166.3 L1811.2 1166.5 L1812.2 1166.7 L1813.2 1166.9 L1814.2 1167.1 L1815.2 1167.3 L1816.2 1167.5 L1817.2 1167.7 L1818.2 1167.9 L1819.2 1168.1 L1820.2 1168.3 L1821.2 1168.5 L1822.2 1168.7 L1823.2 1168.9 L1824.2 1169.1 L1825.2 1169.3 L1826.2 1169.5 L1827.2 1169.7 L1828.2 1169.9 L1829.2 1170.0 L1830.2 1170.2 L1831.2 1170.4 L1832.2 1170.6 L1833.2 1170.8 L1834.2 1171.0 L1835.2 1171.2 L1836.2 1171.3 L1837.2 1171.5 L1838.2 1171.7 L1839.2 1171.9 L1840.2 1172.1 L1841.2 1172.3 L1842.2 1172.4 L1843.2 1172.6 L1844.2 1172.8 L1845.2 1173.0 L1846.2 1173.2 L1847.2 1173.3 L1848.2 1173.5 L1849.2 1173.7 L1850.2 1173.9 L1851.2 1174.1 L1852.2 1174.2 L1853.2 1174.4 L1854.2 1174.6 L1855.2 1174.8 L1856.2 1174.9 L1857.2 1175.1 L1858.2 1175.3 L1859.2 1175.5 L1860.2 1175.6 L1861.2 1175.8 L1862.2 1176.0 L1863.2 1176.1 L1864.2 1176.3 L1865.2 1176.5 L1866.2 1176.6 L1867.2 1176.8 L1868.2 1177.0 L1869.2 1177.2 L1870.2 1177.3 L1871.2 1177.5 L1872.2 1177.6 L1873.2 1177.8 L1874.2 1178.0 L1875.2 1178.1 L1876.2 1178.3 L1877.2 1178.5 L1878.2 1178.6 L1879.2 1178.8 L1880.2 1179.0 L1881.2 1179.1 L1882.2 1179.3 L1883.2 1179.4 L1884.2 1179.6 L1885.2 1179.8 L1886.2 1179.9 L1887.2 1180.1 L1888.2 1180.2 L1889.2 1180.4 L1890.2 1180.5 L1891.2 1180.7 L1892.2 1180.9 L1893.2 1181.0 L1894.2 1181.2 L1895.2 1181.3 L1896.2 1181.5 L1897.2 1181.6 L1898.2 1181.8 L1899.2 1181.9 L1900.2 1182.1 L1901.2 1182.2 L1902.2 1182.4 L1903.2 1182.5 L1904.2 1182.7 L1905.2 1182.8 L1906.2 1183.0 L1907.2 1183.1 L1908.2 1183.3 L1909.2 1183.4 L1910.2 1183.6 L1911.2 1183.7 L1912.2 1183.9 L1913.2 1184.0 L1914.2 1184.2 L1915.2 1184.3 L1916.2 1184.4 L1917.2 1184.6 L1918.2 1184.7 L1919.2 1184.9 L1920.2 1185.0 L1921.2 1185.2 L1922.2 1185.3 L1923.2 1185.4 L1924.2 1185.6 L1925.2 1185.7 L1926.2 1185.9 L1927.2 1186.0 L1928.2 1186.1 L1929.2 1186.3 L1930.2 1186.4 L1931.2 1186.6 L1932.2 1186.7 L1933.2 1186.8 L1934.2 1187.0 L1935.2 1187.1 L1936.2 1187.2 L1937.2 1187.4 L1938.2 1187.5 L1939.2 1187.6" fill="none" stroke="#000000" stroke-width="5.3" stroke-linecap="round" stroke-linejoin="round"/>
<path d="M223.7 28.5 L224.2 28.6 L225.2 28.8 L226.2 29.0 L227.2 29.2 L228.2 29.4 L229.2 29.6 L230.2 29.8 L231.2 30.0 L232.2 30.1 L233.2 30.3 L234.2 30.5 L235.2 30.7 L236.2 30.9 L237.2 31.1 L238.2 31.3 L239.2 31.5 L240.2 31.7 L241.2 31.9 L242.2 32.1 L243.2 32.4 L244.2 32.6 L245.2 32.8 L246.2 33.0 L247.2 33.2 L248.2 33.4 L249.2 33.6 L250.2 33.8 L251.2 34.0 L252.2 34.2 L253.2 34.4 L254.2 34.6 L255.2 34.9 L256.2 35.1 L257.2 35.3 L258.2 35.5 L259.2 35.7 L260.2 35.9 L261.2 36.2 L262.2 36.4 L263.2 36.6 L264.2 36.8 L265.2 37.0 L266.2 37.3 L267.2 37.5 L268.2 37.7 L269.2 37.9 L270.2 38.1 L271.2 38.4 L272.2 38.6 L273.2 38.8 L274.2 39.1 L275.2 39.3 L276.2 39.5 L277.2 39.7 L278.2 40.0 L279.2 40.2 L280.2 40.4 L281.2 40.7 M311.6 48.2 L312.2 48.4 L313.2 48.7 L314.2 48.9 L315.2 49.2 L316.2 49.4 L317.2 49.7 L318.2 50.0 L319.2 50.3 L320.2 50.5 L321.2 50.8 L322.2 51.1 L323.2 51.3 L324.2 51.6 L325.2 51.9 L326.2 52.2 L327.2 52.4 L328.2 52.7 L329.2 53.0 L330.2 53.3 L331.2 53.6 L332.2 53.8 L333.2 54.1 L334.2 54.4 L335.2 54.7 L336.2 55.0 L337.2 55.3 L338.2 55.6 L339.2 55.8 L340.2 56.1 L341.2 56.4 L342.2 56.7 L343.2 57.0 L344.2 57.3 L345.2 57.6 L346.2 57.9 L347.2 58.2 L348.2 58.5 L349.2 58.8 L350.2 59.1 L351.2 59.4 L352.2 59.7 L353.2 60.0 L354.2 60.3 L355.2 60.6 L356.2 60.9 L357.2 61.2 L358.2 61.5 L359.2 61.8 L360.2 62.2 L361.2 62.5 L362.2 62.8 L363.2 63.1 L364.2 63.4 L365.2 63.7 L366.2 64.0 L367.2 64.4 L368.2 64.7 L369.1 65.0 M399.5 75.3 L400.2 75.5 L401.2 75.9 L402.2 76.3 L403.2 76.6 L404.2 77.0 L405.2 77.4 L406.2 77.7 L407.2 78.1 L408.2 78.5 L409.2 78.8 L410.2 79.2 L411.2 79.6 L412.2 79.9 L413.2 80.3 L414.2 80.7 L415.2 81.1 L416.2 81.4 L417.2 81.8 L418.2 82.2 L419.2 82.6 L420.2 83.0 L421.2 83.3 L422.2 83.7 L423.2 84.1 L424.2 84.5 L425.2 84.9 L426.2 85.3 L427.2 85.7 L428.2 86.1 L429.2 86.5 L430.2 86.9 L431.2 87.3 L432.2 87.7 L433.2 88.1 L434.2 88.5 L435.2 88.9 L436.2 89.3 L437.2 89.7 L438.2 90.1 L439.2 90.5 L440.2 90.9 L441.2 91.3 L442.2 91.7 L443.2 92.1 L444.2 92.6 L445.2 93.0 L446.2 93.4 L447.2 93.8 L448.2 94.2 L449.2 94.7 L450.2 95.1 L451.2 95.5 L452.2 95.9 L453.2 96.4 L454.2 96.8 L455.2 97.2 L456.2 97.6 L457.0 98.0 M487.4 111.9 L488.2 112.2 L489.2 112.7 L490.2 113.2 L491.2 113.7 L492.2 114.2 L493.2 114.7 L494.2 115.1 L495.2 115.6 L496.2 116.1 L497.2 116.6 L498.2 117.1 L499.2 117.6 L500.2 118.1 L501.2 118.6 L502.2 119.1 L503.2 119.6 L504.2 120.1 L505.2 120.6 L506.2 121.1 L507.2 121.6 L508.2 122.1 L509.2 122.7 L510.2 123.2 L511.2 123.7 L512.2 124.2 L513.2 124.7 L514.2 125.2 L515.2 125.8 L516.2 126.3 L517.2 126.8 L518.2 127.3 L519.2 127.9 L520.2 128.4 L521.2 128.9 L522.2 129.5 L523.2 130.0 L524.2 130.5 L525.2 131.1 L526.2 131.6 L527.2 132.2 L528.2 132.7 L529.2 133.2 L530.2 133.8 L531.2 134.3 L532.2 134.9 L533.2 135.4 L534.2 136.0 L535.2 136.5 L536.2 137.1 L537.2 137.7 L538.2 138.2 L539.2 138.8 L540.2 139.3 L541.2 139.9 L542.2 140.5 L543.2 141.0 L544.2 141.6 L544.9 142.0 M575.3 160.2 L576.2 160.8 L577.2 161.4 L578.2 162.0 L579.2 162.7 L580.2 163.3 L581.2 163.9 L582.2 164.6 L583.2 165.2 L584.2 165.8 L585.2 166.5 L586.2 167.1 L587.2 167.8 L588.2 168.4 L589.2 169.1 L590.2 169.7 L591.2 170.4 L592.2 171.0 L593.2 171.7 L594.2 172.4 L595.2 173.0 L596.2 173.7 L597.2 174.3 L598.2 175.0 L599.2 175.7 L600.2 176.4 L601.2 177.0 L602.2 177.7 L603.2 178.4 L604.2 179.1 L605.2 179.7 L606.2 180.4 L607.2 181.1 L608.2 181.8 L609.2 182.5 L610.2 183.2 L611.2 183.8 L612.2 184.5 L613.2 185.2 L614.2 185.9 L615.2 186.6 L616.2 187.3 L617.2 188.0 L618.2 188.7 L619.2 189.4 L620.2 190.2 L621.2 190.9 L622.2 191.6 L623.2 192.3 L624.2 193.0 L625.2 193.7 L626.2 194.4 L627.2 195.2 L628.2 195.9 L629.2 196.6 L630.2 197.3 L631.2 198.1 L632.2 198.8 L632.8 199.2 M663.2 222.4 L663.2 222.4 L664.2 223.2 L665.2 224.0 L666.2 224.8 L667.2 225.6 L668.2 226.4 L669.2 227.2 L670.2 228.0 L671.2 228.8 L672.2 229.6 L673.2 230.4 L674.2 231.2 L675.2 232.1 L676.2 232.9 L677.2 233.7 L678.2 234.5 L679.2 235.3 L680.2 236.2 L681.2 237.0 L682.2 237.8 L683.2 238.7 L684.2 239.5 L685.2 240.3 L686.2 241.2 L687.2 242.0 L688.2 242.8 L689.2 243.7 L690.2 244.5 L691.2 245.4 L692.2 246.2 L693.2 247.1 L694.2 247.9 L695.2 248.8 L696.2 249.6 L697.2 250.5 L698.2 251.3 L699.2 252.2 L700.2 253.1 L701.2 253.9 L702.2 254.8 L703.2 255.7 L704.2 256.6 L705.2 257.4 L706.2 258.3 L707.2 259.2 L708.2 260.1 L709.2 260.9 L710.2 261.8 L711.2 262.7 L712.2 263.6 L713.2 264.5 L714.2 265.4 L715.2 266.3 L716.2 267.2 L717.2 268.1 L718.2 269.0 L719.2 269.9 L720.2 270.8 L720.7 271.2 M751.1 299.6 L751.2 299.7 L752.2 300.7 L753.2 301.7 L754.2 302.6 L755.2 303.6 L756.2 304.6 L757.2 305.6 L758.2 306.5 L759.2 307.5 L760.2 308.5 L761.2 309.5 L762.2 310.5 L763.2 311.4 L764.2 312.4 L765.2 313.4 L766.2 314.4 L767.2 315.4 L768.2 316.4 L769.2 317.4 L770.2 318.4 L771.2 319.4 L772.2 320.4 L773.2 321.4 L774.2 322.4 L775.2 323.4 L776.2 324.4 L777.2 325.4 L778.2 326.5 L779.2 327.5 L780.2 328.5 L781.2 329.5 L782.2 330.5 L783.2 331.6 L784.2 332.6 L785.2 333.6 L786.2 334.6 L787.2 335.7 L788.2 336.7 L789.2 337.7 L790.2 338.8 L791.2 339.8 L792.2 340.8 L793.2 341.9 L794.2 342.9 L795.2 344.0 L796.2 345.0 L797.2 346.1 L798.2 347.1 L799.2 348.2 L800.2 349.2 L801.2 350.3 L802.2 351.3 L803.2 352.4 L804.2 353.4 L805.2 354.5 L806.2 355.6 L807.2 356.6 L807.4 356.8 M835.3 387.2 L836.2 388.3 L837.2 389.4 L838.2 390.5 L839.2 391.6 L840.2 392.7 L841.2 393.8 L842.2 395.0 L843.2 396.1 L844.2 397.2 L845.2 398.3 L846.2 399.5 L847.2 400.6 L848.2 401.7 L849.2 402.9 L850.2 404.0 L851.2 405.1 L852.2 406.3 L853.2 407.4 L854.2 408.5 L855.2 409.7 L856.2 410.8 L857.2 412.0 L858.2 413.1 L859.2 414.3 L860.2 415.4 L861.2 416.6 L862.2 417.7 L863.2 418.9 L864.2 420.0 L865.2 421.2 L866.2 422.3 L867.2 423.5 L868.2 424.6 L869.2 425.8 L870.2 427.0 L871.2 428.1 L872.2 429.3 L873.2 430.5 L874.2 431.6 L875.2 432.8 L876.2 434.0 L877.2 435.1 L878.2 436.3 L879.2 437.5 L880.2 438.7 L881.2 439.8 L882.2 441.0 L883.2 442.2 L884.2 443.4 L885.2 444.6 L885.3 444.7 M910.7 475.1 L911.2 475.7 L912.2 476.9 L913.2 478.1 L914.2 479.3 L915.2 480.5 L916.2 481.8 L917.2 483.0 L918.2 484.2 L919.2 485.4 L920.2 486.6 L921.2 487.8 L922.2 489.1 L923.2 490.3 L924.2 491.5 L925.2 492.7 L926.2 494.0 L927.2 495.2 L928.2 496.4 L929.2 497.6 L930.2 498.9 L931.2 500.1 L932.2 501.3 L933.2 502.6 L934.2 503.8 L935.2 505.0 L936.2 506.3 L937.2 507.5 L938.2 508.7 L939.2 510.0 L940.2 511.2 L941.2 512.4 L942.2 513.7 L943.2 514.9 L944.2 516.1 L945.2 517.4 L946.2 518.6 L947.2 519.9 L948.2 521.1 L949.2 522.3 L950.2 523.6 L951.2 524.8 L952.2 526.1 L953.2 527.3 L954.2 528.6 L955.2 529.8 L956.2 531.1 L957.2 532.3 L957.4 532.6 M981.7 563.0 L982.2 563.7 L983.2 564.9 L984.2 566.2 L985.2 567.4 L986.2 568.7 L987.2 570.0 L988.2 571.2 L989.2 572.5 L990.2 573.7 L991.2 575.0 L992.2 576.3 L993.2 577.5 L994.2 578.8 L995.2 580.1 L996.2 581.3 L997.2 582.6 L998.2 583.8 L999.2 585.1 L1000.2 586.4 L1001.2 587.6 L1002.2 588.9 L1003.2 590.2 L1004.2 591.4 L1005.2 592.7 L1006.2 593.9 L1007.2 595.2 L1008.2 596.5 L1009.2 597.7 L1010.2 599.0 L1011.2 600.3 L1012.2 601.5 L1013.2 602.8 L1014.2 604.1 L1015.2 605.3 L1016.2 606.6 L1017.2 607.9 L1018.2 609.1 L1019.2 610.4 L1020.2 611.6 L1021.2 612.9 L1022.2 614.2 L1023.2 615.4 L1024.2 616.7 L1025.2 618.0 L1026.2 619.2 L1027.2 620.5 L1027.2 620.5 M1051.3 650.9 L1052.2 652.0 L1053.2 653.3 L1054.2 654.5 L1055.2 655.8 L1056.2 657.0 L1057.2 658.3 L1058.2 659.5 L1059.2 660.8 L1060.2 662.0 L1061.2 663.3 L1062.2 664.6 L1063.2 665.8 L1064.2 667.1 L1065.2 668.3 L1066.2 669.6 L1067.2 670.8 L1068.2 672.1 L1069.2 673.3 L1070.2 674.6 L1071.2 675.8 L1072.2 677.0 L1073.2 678.3 L1074.2 679.5 L1075.2 680.8 L1076.2 682.0 L1077.2 683.3 L1078.2 684.5 L1079.2 685.8 L1080.2 687.0 L1081.2 688.2 L1082.2 689.5 L1083.2 690.7 L1084.2 692.0 L1085.2 693.2 L1086.2 694.4 L1087.2 695.7 L1088.2 696.9 L1089.2 698.2 L1090.2 699.4 L1091.2 700.6 L1092.2 701.9 L1093.2 703.1 L1094.2 704.3 L1095.2 705.5 L1096.2 706.8 L1097.2 708.0 L1097.5 708.4 M1122.5 738.8 L1123.2 739.7 L1124.2 740.9 L1125.2 742.1 L1126.2 743.3 L1127.2 744.5 L1128.2 745.7 L1129.2 746.9 L1130.2 748.1 L1131.2 749.3 L1132.2 750.4 L1133.2 751.6 L1134.2 752.8 L1135.2 754.0 L1136.2 755.2 L1137.2 756.4 L1138.2 757.6 L1139.2 758.8 L1140.2 760.0 L1141.2 761.1 L1142.2 762.3 L1143.2 763.5 L1144.2 764.7 L1145.2 765.9 L1146.2 767.1 L1147.2 768.2 L1148.2 769.4 L1149.2 770.6 L1150.2 771.8 L1151.2 772.9 L1152.2 774.1 L1153.2 775.3 L1154.2 776.4 L1155.2 777.6 L1156.2 778.8 L1157.2 779.9 L1158.2 781.1 L1159.2 782.3 L1160.2 783.4 L1161.2 784.6 L1162.2 785.7 L1163.2 786.9 L1164.2 788.0 L1165.2 789.2 L1166.2 790.3 L1167.2 791.5 L1168.2 792.6 L1169.2 793.8 L1170.2 794.9 L1171.2 796.1 L1171.4 796.3 M1198.4 826.7 L1199.2 827.5 L1200.2 828.6 L1201.2 829.7 L1202.2 830.8 L1203.2 831.9 L1204.2 833.0 L1205.2 834.1 L1206.2 835.2 L1207.2 836.3 L1208.2 837.4 L1209.2 838.5 L1210.2 839.6 L1211.2 840.6 L1212.2 841.7 L1213.2 842.8 L1214.2 843.9 L1215.2 844.9 L1216.2 846.0 L1217.2 847.1 L1218.2 848.2 L1219.2 849.2 L1220.2 850.3 L1221.2 851.4 L1222.2 852.4 L1223.2 853.5 L1224.2 854.6 L1225.2 855.6 L1226.2 856.7 L1227.2 857.7 L1228.2 858.8 L1229.2 859.8 L1230.2 860.9 L1231.2 861.9 L1232.2 863.0 L1233.2 864.0 L1234.2 865.1 L1235.2 866.1 L1236.2 867.1 L1237.2 868.2 L1238.2 869.2 L1239.2 870.3 L1240.2 871.3 L1241.2 872.3 L1242.2 873.4 L1243.2 874.4 L1244.2 875.4 L1245.2 876.4 L1246.2 877.4 L1247.2 878.5 L1248.2 879.5 L1249.2 880.5 L1250.2 881.5 L1251.2 882.5 L1252.2 883.5 L1252.9 884.2 M1283.2 914.0 L1284.2 914.9 L1285.2 915.9 L1286.2 916.8 L1287.2 917.7 L1288.2 918.7 L1289.2 919.6 L1290.2 920.6 L1291.2 921.5 L1292.2 922.4 L1293.2 923.4 L1294.2 924.3 L1295.2 925.2 L1296.2 926.2 L1297.2 927.1 L1298.2 928.0 L1299.2 928.9 L1300.2 929.9 L1301.2 930.8 L1302.2 931.7 L1303.2 932.6 L1304.2 933.5 L1305.2 934.4 L1306.2 935.3 L1307.2 936.2 L1308.2 937.1 L1309.2 938.0 L1310.2 938.9 L1311.2 939.8 L1312.2 940.7 L1313.2 941.6 L1314.2 942.5 L1315.2 943.4 L1316.2 944.3 L1317.2 945.2 L1318.2 946.1 L1319.2 947.0 L1320.2 947.8 L1321.2 948.7 L1322.2 949.6 L1323.2 950.5 L1324.2 951.3 L1325.2 952.2 L1326.2 953.1 L1327.2 953.9 L1328.2 954.8 L1329.2 955.7 L1330.2 956.5 L1331.2 957.4 L1332.2 958.3 L1333.2 959.1 L1334.2 960.0 L1335.2 960.8 L1336.2 961.7 L1337.2 962.5 L1338.2 963.4 L1339.2 964.2 L1340.2 965.0 L1340.7 965.5 M1371.1 990.1 L1371.2 990.1 L1372.2 990.9 L1373.2 991.7 L1374.2 992.5 L1375.2 993.2 L1376.2 994.0 L1377.2 994.8 L1378.2 995.5 L1379.2 996.3 L1380.2 997.1 L1381.2 997.8 L1382.2 998.6 L1383.2 999.3 L1384.2 1000.1 L1385.2 1000.9 L1386.2 1001.6 L1387.2 1002.4 L1388.2 1003.1 L1389.2 1003.8 L1390.2 1004.6 L1391.2 1005.3 L1392.2 1006.1 L1393.2 1006.8 L1394.2 1007.5 L1395.2 1008.3 L1396.2 1009.0 L1397.2 1009.7 L1398.2 1010.5 L1399.2 1011.2 L1400.2 1011.9 L1401.2 1012.6 L1402.2 1013.4 L1403.2 1014.1 L1404.2 1014.8 L1405.2 1015.5 L1406.2 1016.2 L1407.2 1016.9 L1408.2 1017.6 L1409.2 1018.3 L1410.2 1019.1 L1411.2 1019.8 L1412.2 1020.5 L1413.2 1021.2 L1414.2 1021.9 L1415.2 1022.5 L1416.2 1023.2 L1417.2 1023.9 L1418.2 1024.6 L1419.2 1025.3 L1420.2 1026.0 L1421.2 1026.7 L1422.2 1027.4 L1423.2 1028.0 L1424.2 1028.7 L1425.2 1029.4 L1426.2 1030.1 L1427.2 1030.7 L1428.2 1031.4 L1428.6 1031.7 M1459.0 1051.2 L1459.2 1051.3 L1460.2 1051.9 L1461.2 1052.5 L1462.2 1053.1 L1463.2 1053.8 L1464.2 1054.4 L1465.2 1055.0 L1466.2 1055.6 L1467.2 1056.2 L1468.2 1056.8 L1469.2 1057.4 L1470.2 1058.0 L1471.2 1058.5 L1472.2 1059.1 L1473.2 1059.7 L1474.2 1060.3 L1475.2 1060.9 L1476.2 1061.5 L1477.2 1062.1 L1478.2 1062.6 L1479.2 1063.2 L1480.2 1063.8 L1481.2 1064.4 L1482.2 1065.0 L1483.2 1065.5 L1484.2 1066.1 L1485.2 1066.7 L1486.2 1067.2 L1487.2 1067.8 L1488.2 1068.4 L1489.2 1068.9 L1490.2 1069.5 L1491.2 1070.0 L1492.2 1070.6 L1493.2 1071.2 L1494.2 1071.7 L1495.2 1072.3 L1496.2 1072.8 L1497.2 1073.4 L1498.2 1073.9 L1499.2 1074.5 L1500.2 1075.0 L1501.2 1075.5 L1502.2 1076.1 L1503.2 1076.6 L1504.2 1077.2 L1505.2 1077.7 L1506.2 1078.2 L1507.2 1078.8 L1508.2 1079.3 L1509.2 1079.8 L1510.2 1080.3 L1511.2 1080.9 L1512.2 1081.4 L1513.2 1081.9 L1514.2 1082.4 L1515.2 1083.0 L1516.2 1083.5 L1516.5 1083.6 M1546.9 1098.6 L1547.2 1098.7 L1548.2 1099.2 L1549.2 1099.7 L1550.2 1100.1 L1551.2 1100.6 L1552.2 1101.1 L1553.2 1101.5 L1554.2 1102.0 L1555.2 1102.4 L1556.2 1102.9 L1557.2 1103.3 L1558.2 1103.8 L1559.2 1104.2 L1560.2 1104.7 L1561.2 1105.1 L1562.2 1105.6 L1563.2 1106.0 L1564.2 1106.5 L1565.2 1106.9 L1566.2 1107.4 L1567.2 1107.8 L1568.2 1108.2 L1569.2 1108.7 L1570.2 1109.1 L1571.2 1109.6 L1572.2 1110.0 L1573.2 1110.4 L1574.2 1110.8 L1575.2 1111.3 L1576.2 1111.7 L1577.2 1112.1 L1578.2 1112.6 L1579.2 1113.0 L1580.2 1113.4 L1581.2 1113.8 L1582.2 1114.2 L1583.2 1114.6 L1584.2 1115.1 L1585.2 1115.5 L1586.2 1115.9 L1587.2 1116.3 L1588.2 1116.7 L1589.2 1117.1 L1590.2 1117.5 L1591.2 1117.9 L1592.2 1118.3 L1593.2 1118.7 L1594.2 1119.1 L1595.2 1119.5 L1596.2 1119.9 L1597.2 1120.3 L1598.2 1120.7 L1599.2 1121.1 L1600.2 1121.5 L1601.2 1121.9 L1602.2 1122.3 L1603.2 1122.7 L1604.2 1123.1 L1604.4 1123.2 M1634.8 1134.4 L1635.2 1134.5 L1636.2 1134.9 L1637.2 1135.2 L1638.2 1135.6 L1639.2 1135.9 L1640.2 1136.2 L1641.2 1136.6 L1642.2 1136.9 L1643.2 1137.3 L1644.2 1137.6 L1645.2 1137.9 L1646.2 1138.3 L1647.2 1138.6 L1648.2 1139.0 L1649.2 1139.3 L1650.2 1139.6 L1651.2 1139.9 L1652.2 1140.3 L1653.2 1140.6 L1654.2 1140.9 L1655.2 1141.3 L1656.2 1141.6 L1657.2 1141.9 L1658.2 1142.2 L1659.2 1142.6 L1660.2 1142.9 L1661.2 1143.2 L1662.2 1143.5 L1663.2 1143.8 L1664.2 1144.1 L1665.2 1144.5 L1666.2 1144.8 L1667.2 1145.1 L1668.2 1145.4 L1669.2 1145.7 L1670.2 1146.0 L1671.2 1146.3 L1672.2 1146.6 L1673.2 1146.9 L1674.2 1147.3 L1675.2 1147.6 L1676.2 1147.9 L1677.2 1148.2 L1678.2 1148.5 L1679.2 1148.8 L1680.2 1149.1 L1681.2 1149.4 L1682.2 1149.7 L1683.2 1149.9 L1684.2 1150.2 L1685.2 1150.5 L1686.2 1150.8 L1687.2 1151.1 L1688.2 1151.4 L1689.2 1151.7 L1690.2 1152.0 L1691.2 1152.3 L1692.2 1152.6 L1692.3 1152.6 M1722.7 1160.8 L1723.2 1161.0 L1724.2 1161.2 L1725.2 1161.5 L1726.2 1161.7 L1727.2 1162.0 L1728.2 1162.2 L1729.2 1162.5 L1730.2 1162.7 L1731.2 1163.0 L1732.2 1163.2 L1733.2 1163.5 L1734.2 1163.7 L1735.2 1164.0 L1736.2 1164.2 L1737.2 1164.4 L1738.2 1164.7 L1739.2 1164.9 L1740.2 1165.2 L1741.2 1165.4 L1742.2 1165.6 L1743.2 1165.9 L1744.2 1166.1 L1745.2 1166.4 L1746.2 1166.6 L1747.2 1166.8 L1748.2 1167.1 L1749.2 1167.3 L1750.2 1167.5 L1751.2 1167.8 L1752.2 1168.0 L1753.2 1168.2 L1754.2 1168.5 L1755.2 1168.7 L1756.2 1168.9 L1757.2 1169.1 L1758.2 1169.4 L1759.2 1169.6 L1760.2 1169.8 L1761.2 1170.0 L1762.2 1170.3 L1763.2 1170.5 L1764.2 1170.7 L1765.2 1170.9 L1766.2 1171.1 L1767.2 1171.4 L1768.2 1171.6 L1769.2 1171.8 L1770.2 1172.0 L1771.2 1172.2 L1772.2 1172.4 L1773.2 1172.6 L1774.2 1172.9 L1775.2 1173.1 L1776.2 1173.3 L1777.2 1173.5 L1778.2 1173.7 L1779.2 1173.9 L1780.2 1174.1 L1780.2 1174.1 M1810.6 1180.1 L1811.2 1180.2 L1812.2 1180.4 L1813.2 1180.6 L1814.2 1180.7 L1815.2 1180.9 L1816.2 1181.1 L1817.2 1181.3 L1818.2 1181.5 L1819.2 1181.7 L1820.2 1181.8 L1821.2 1182.0 L1822.2 1182.2 L1823.2 1182.4 L1824.2 1182.5 L1825.2 1182.7 L1826.2 1182.9 L1827.2 1183.1 L1828.2 1183.2 L1829.2 1183.4 L1830.2 1183.6 L1831.2 1183.8 L1832.2 1183.9 L1833.2 1184.1 L1834.2 1184.3 L1835.2 1184.4 L1836.2 1184.6 L1837.2 1184.8 L1838.2 1184.9 L1839.2 1185.1 L1840.2 1185.3 L1841.2 1185.4 L1842.2 1185.6 L1843.2 1185.8 L1844.2 1185.9 L1845.2 1186.1 L1846.2 1186.3 L1847.2 1186.4 L1848.2 1186.6 L1849.2 1186.7 L1850.2 1186.9 L1851.2 1187.1 L1852.2 1187.2 L1853.2 1187.4 L1854.2 1187.5 L1855.2 1187.7 L1856.2 1187.8 L1857.2 1188.0 L1858.2 1188.2 L1859.2 1188.3 L1860.2 1188.5 L1861.2 1188.6 L1862.2 1188.8 L1863.2 1188.9 L1864.2 1189.1 L1865.2 1189.2 L1866.2 1189.4 L1867.2 1189.5 L1868.1 1189.7 M1898.5 1193.9 L1899.2 1194.0 L1900.2 1194.2 L1901.2 1194.3 L1902.2 1194.4 L1903.2 1194.6 L1904.2 1194.7 L1905.2 1194.8 L1906.2 1195.0 L1907.2 1195.1 L1908.2 1195.2 L1909.2 1195.3 L1910.2 1195.5 L1911.2 1195.6 L1912.2 1195.7 L1913.2 1195.8 L1914.2 1196.0 L1915.2 1196.1 L1916.2 1196.2 L1917.2 1196.3 L1918.2 1196.5 L1919.2 1196.6 L1920.2 1196.7 L1921.2 1196.8 L1922.2 1197.0 L1923.2 1197.1 L1924.2 1197.2 L1925.2 1197.3 L1926.2 1197.4 L1927.2 1197.6 L1928.2 1197.7 L1929.2 1197.8 L1930.2 1197.9 L1931.2 1198.0 L1932.2 1198.1 L1933.2 1198.3 L1934.2 1198.4 L1935.2 1198.5 L1936.2 1198.6 L1937.2 1198.7 L1938.2 1198.8 L1939.2 1198.9" fill="none" stroke="#F7813E" stroke-width="4.8" stroke-linecap="round" stroke-linejoin="round"/>
<g fill="#0000FF"><circle cx="222.1" cy="35.9" r="3.70"/><circle cx="241.4" cy="39.0" r="3.70"/><circle cx="260.7" cy="42.5" r="3.70"/><circle cx="280.0" cy="46.2" r="3.70"/><circle cx="299.3" cy="50.2" r="3.70"/><circle cx="318.6" cy="54.5" r="3.70"/><circle cx="338.0" cy="59.1" r="3.70"/><circle cx="357.3" cy="64.2" r="3.70"/><circle cx="376.6" cy="69.6" r="3.70"/><circle cx="395.9" cy="75.4" r="3.70"/><circle cx="415.2" cy="81.7" r="3.70"/><circle cx="434.5" cy="88.5" r="3.70"/><circle cx="453.9" cy="95.7" r="3.70"/><circle cx="473.2" cy="103.5" r="3.70"/><circle cx="492.5" cy="111.9" r="3.70"/><circle cx="511.8" cy="120.8" r="3.70"/><circle cx="531.1" cy="130.4" r="3.70"/><circle cx="550.4" cy="140.6" r="3.70"/><circle cx="569.8" cy="151.5" r="3.70"/><circle cx="589.1" cy="163.1" r="3.70"/><circle cx="608.4" cy="175.5" r="3.70"/><circle cx="627.7" cy="188.6" r="3.70"/><circle cx="647.0" cy="202.5" r="3.70"/><circle cx="666.3" cy="217.2" r="3.70"/><circle cx="685.7" cy="232.7" r="3.70"/><circle cx="705.0" cy="249.1" r="3.70"/><circle cx="724.3" cy="266.2" r="3.70"/><circle cx="743.6" cy="284.3" r="3.70"/><circle cx="762.9" cy="303.1" r="3.70"/><circle cx="781.9" cy="322.4" r="3.70"/><circle cx="800.2" cy="341.7" r="3.70"/><circle cx="817.8" cy="361.0" r="3.70"/><circle cx="835.0" cy="380.3" r="3.70"/><circle cx="851.6" cy="399.7" r="3.70"/><circle cx="867.9" cy="419.0" r="3.70"/><circle cx="883.7" cy="438.3" r="3.70"/><circle cx="899.3" cy="457.6" r="3.70"/><circle cx="914.6" cy="476.9" r="3.70"/><circle cx="929.7" cy="496.2" r="3.70"/><circle cx="944.6" cy="515.6" r="3.70"/><circle cx="959.4" cy="534.9" r="3.70"/><circle cx="974.0" cy="554.2" r="3.70"/><circle cx="988.6" cy="573.5" r="3.70"/><circle cx="1003.1" cy="592.8" r="3.70"/><circle cx="1017.5" cy="612.1" r="3.70"/><circle cx="1032.0" cy="631.5" r="3.70"/><circle cx="1046.5" cy="650.8" r="3.70"/><circle cx="1061.0" cy="670.1" r="3.70"/><circle cx="1075.7" cy="689.4" r="3.70"/><circle cx="1090.4" cy="708.7" r="3.70"/><circle cx="1105.3" cy="728.0" r="3.70"/><circle cx="1120.4" cy="747.4" r="3.70"/><circle cx="1135.7" cy="766.7" r="3.70"/><circle cx="1151.3" cy="786.0" r="3.70"/><circle cx="1167.1" cy="805.3" r="3.70"/><circle cx="1183.4" cy="824.6" r="3.70"/><circle cx="1200.0" cy="843.9" r="3.70"/><circle cx="1217.1" cy="863.2" r="3.70"/><circle cx="1234.7" cy="882.6" r="3.70"/><circle cx="1252.9" cy="901.9" r="3.70"/><circle cx="1271.9" cy="921.2" r="3.70"/><circle cx="1291.2" cy="940.1" r="3.70"/><circle cx="1310.5" cy="958.2" r="3.70"/><circle cx="1329.8" cy="975.4" r="3.70"/><circle cx="1349.1" cy="991.8" r="3.70"/><circle cx="1368.4" cy="1007.3" r="3.70"/><circle cx="1387.8" cy="1022.1" r="3.70"/><circle cx="1407.1" cy="1036.0" r="3.70"/><circle cx="1426.4" cy="1049.2" r="3.70"/><circle cx="1445.7" cy="1061.6" r="3.70"/><circle cx="1465.0" cy="1073.3" r="3.70"/><circle cx="1484.3" cy="1084.2" r="3.70"/><circle cx="1503.7" cy="1094.5" r="3.70"/><circle cx="1523.0" cy="1104.1" r="3.70"/><circle cx="1542.3" cy="1113.1" r="3.70"/><circle cx="1561.6" cy="1121.5" r="3.70"/><circle cx="1580.9" cy="1129.3" r="3.70"/><circle cx="1600.2" cy="1136.6" r="3.70"/><circle cx="1619.6" cy="1143.4" r="3.70"/><circle cx="1638.9" cy="1149.7" r="3.70"/><circle cx="1658.2" cy="1155.6" r="3.70"/><circle cx="1677.5" cy="1161.0" r="3.70"/><circle cx="1696.8" cy="1166.1" r="3.70"/><circle cx="1716.1" cy="1170.8" r="3.70"/><circle cx="1735.4" cy="1175.1" r="3.70"/><circle cx="1754.8" cy="1179.1" r="3.70"/><circle cx="1774.1" cy="1182.8" r="3.70"/><circle cx="1793.4" cy="1186.3" r="3.70"/><circle cx="1812.7" cy="1189.5" r="3.70"/><circle cx="1832.0" cy="1192.4" r="3.70"/><circle cx="1851.3" cy="1195.1" r="3.70"/><circle cx="1870.7" cy="1197.6" r="3.70"/><circle cx="1890.0" cy="1200.0" r="3.70"/><circle cx="1909.3" cy="1202.1" r="3.70"/><circle cx="1928.6" cy="1204.1" r="3.70"/></g>
<rect x="250.7" y="832.8" width="582.3" height="372.8" fill="#fff" stroke="#000" stroke-width="3.2"/>
<path d="M287.3 896.1 L550.6 896.1" stroke="#000000" stroke-width="5.3" stroke-linecap="round"/>
<path d="M418.6 876.5 L438.2 896.1 L418.6 915.7 L399.0 896.1 Z" fill="#FFFFFF" stroke="#000" stroke-width="3.6" stroke-linejoin="miter"/>
<text transform="translate(617.6 914.5) scale(1 1.067)" class="t">NY-ORA</text>
<path d="M287.2 957.8 L346.7 957.8 M375.0 957.8 L434.5 957.8 M462.8 957.8 L522.3 957.8 M550.6 957.8 L550.7 957.8" fill="none" stroke="#F7813E" stroke-width="4.8" stroke-linecap="round"/>
<circle cx="418.6" cy="957.8" r="17.4" fill="#F98A00" stroke="#000" stroke-width="3.6"/>
<text transform="translate(617.6 976.2) scale(1 1.067)" class="t">NY-GEN</text>
<path d="M287.4 1019.4 L316.2 1019.4 M333.8 1019.4 L362.6 1019.4 M380.2 1019.4 L409.0 1019.4 M426.6 1019.4 L455.4 1019.4 M473.0 1019.4 L501.8 1019.4 M519.4 1019.4 L548.2 1019.4" fill="none" stroke="#00F000" stroke-width="5.3" stroke-linecap="round"/>
<rect x="403.0" y="1003.8" width="31.2" height="31.2" fill="#00F000" stroke="#000" stroke-width="3.6"/>
<text transform="translate(617.6 1037.8) scale(1 1.067)" class="t">NY-STE</text>
<g fill="#0000FF"><circle cx="285.7" cy="1080.8" r="3.20"/><circle cx="303.3" cy="1080.8" r="3.20"/><circle cx="320.9" cy="1080.8" r="3.20"/><circle cx="338.5" cy="1080.8" r="3.20"/><circle cx="356.1" cy="1080.8" r="3.20"/><circle cx="373.7" cy="1080.8" r="3.20"/><circle cx="391.3" cy="1080.8" r="3.20"/><circle cx="408.9" cy="1080.8" r="3.20"/><circle cx="426.5" cy="1080.8" r="3.20"/><circle cx="444.1" cy="1080.8" r="3.20"/><circle cx="461.7" cy="1080.8" r="3.20"/><circle cx="479.3" cy="1080.8" r="3.20"/><circle cx="496.9" cy="1080.8" r="3.20"/><circle cx="514.5" cy="1080.8" r="3.20"/><circle cx="532.1" cy="1080.8" r="3.20"/><circle cx="549.7" cy="1080.8" r="3.20"/></g>
<path d="M418.6 1061.9 L435.8 1091.6 L401.4 1091.6 Z" fill="#0000FF" stroke="#000" stroke-width="3.6" stroke-linejoin="miter"/>
<text transform="translate(617.6 1099.2) scale(1 1.067)" class="t">NJ-CMB</text>
<path d="M287.4 1142.3 L326.0 1142.3 M375.8 1142.3 L414.4 1142.3 M464.2 1142.3 L502.8 1142.3" fill="none" stroke="#F00000" stroke-width="5.1" stroke-linecap="round"/>
<g fill="#F00000"><circle cx="342.8" cy="1142.3" r="2.55"/><circle cx="358.4" cy="1142.3" r="2.55"/><circle cx="431.2" cy="1142.3" r="2.55"/><circle cx="446.8" cy="1142.3" r="2.55"/><circle cx="519.6" cy="1142.3" r="2.55"/><circle cx="535.2" cy="1142.3" r="2.55"/></g>
<path d="M418.6 1117.4 L424.3 1134.4 L442.3 1134.6 L427.8 1145.3 L433.2 1162.4 L418.6 1152.0 L404.0 1162.4 L409.4 1145.3 L394.9 1134.6 L412.9 1134.4 Z" fill="#F00000" stroke="#000" stroke-width="3.6" stroke-linejoin="round"/>
<text transform="translate(617.6 1160.7) scale(1 1.067)" class="t">NE-S</text>
</svg>
</body></html>
